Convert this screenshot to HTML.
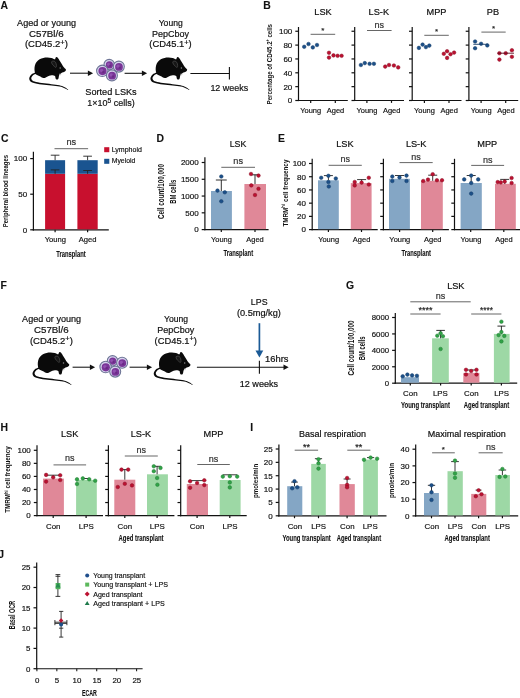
<!DOCTYPE html>
<html><head><meta charset="utf-8"><title>Figure</title>
<style>
html,body{margin:0;padding:0;background:#fff;}
body{width:520px;height:698px;overflow:hidden;}
svg{display:block;font-family:"Liberation Sans",sans-serif;filter:blur(0.45px);}
</style></head><body>
<svg width="520" height="698" viewBox="0 0 520 698">
<rect width="520" height="698" fill="#fff"/>
<text x="0.4" y="9.2" font-size="10.4" text-anchor="start" font-weight="bold" fill="#111111" stroke="#111111" stroke-width="0.1">A</text>
<text x="46.6" y="25.5" font-size="9.1" text-anchor="middle" fill="#111111" stroke="#111111" stroke-width="0.2" textLength="59.0" lengthAdjust="spacingAndGlyphs">Aged or young</text>
<text x="46.3" y="36.7" font-size="9.1" text-anchor="middle" fill="#111111" stroke="#111111" stroke-width="0.2" textLength="34.6" lengthAdjust="spacingAndGlyphs">C57Bl/6</text>
<text x="46.4" y="47.4" font-size="9.1" text-anchor="middle" fill="#111111" stroke="#111111" stroke-width="0.2" textLength="43.0" lengthAdjust="spacingAndGlyphs">(CD45.2<tspan dy="-2.6" font-size="7.2">+</tspan><tspan dy="2.6">)</tspan></text>
<g transform="translate(28,54) scale(1.0)">
<path d="M7.75 18.42 C7.11 18.42 5.22 19.09 4.20 19.87 C3.18 20.65 2.05 22.05 1.62 23.10 C1.18 24.15 1.05 25.22 1.62 26.17 C2.18 27.13 2.99 28.10 5.01 28.84 C7.03 29.58 10.66 30.16 13.73 30.61 C16.80 31.07 20.44 31.26 23.42 31.58 C26.41 31.91 29.48 32.12 31.66 32.55 C33.84 32.98 35.08 33.58 36.51 34.17 C37.94 34.76 39.71 35.93 40.23 36.11 C40.74 36.28 40.25 35.72 39.58 35.22 C38.91 34.72 37.56 33.76 36.19 33.12 C34.81 32.47 33.47 31.83 31.34 31.34 C29.21 30.86 26.33 30.59 23.42 30.21 C20.52 29.83 16.69 29.52 13.89 29.08 C11.09 28.63 8.32 28.11 6.62 27.54 C4.93 26.98 4.25 26.35 3.72 25.69 C3.18 25.03 3.18 24.34 3.39 23.59 C3.61 22.83 4.23 21.78 5.01 21.16 C5.79 20.54 7.62 20.33 8.08 19.87 C8.54 19.41 8.40 18.42 7.75 18.42 Z" fill="#0a0a0a"/>
<path d="M7.11 19.22 C6.89 18.42 6.49 16.67 6.46 15.35 C6.44 14.03 6.60 12.55 6.95 11.31 C7.30 10.07 7.78 8.91 8.56 7.92 C9.34 6.92 10.50 6.00 11.63 5.33 C12.76 4.66 14.05 4.17 15.35 3.88 C16.64 3.58 18.04 3.53 19.39 3.55 C20.73 3.58 22.19 3.74 23.42 4.04 C24.66 4.33 26.14 5.36 26.82 5.33 C27.49 5.30 27.19 4.28 27.46 3.88 C27.73 3.47 28.08 2.99 28.43 2.91 C28.78 2.83 29.19 3.04 29.56 3.39 C29.94 3.74 30.34 4.44 30.69 5.01 C31.04 5.57 31.26 6.11 31.66 6.79 C32.07 7.46 32.61 8.23 33.12 9.05 C33.63 9.87 34.17 10.90 34.73 11.71 C35.30 12.52 35.97 13.26 36.51 13.89 C37.05 14.53 37.80 15.00 37.96 15.51 C38.13 16.02 37.80 16.56 37.48 16.96 C37.16 17.37 36.56 17.66 36.03 17.93 C35.49 18.20 34.81 18.26 34.25 18.58 C33.68 18.90 33.14 19.44 32.63 19.87 C32.12 20.30 31.50 20.57 31.18 21.16 C30.86 21.76 30.88 22.75 30.69 23.42 C30.51 24.10 30.43 24.85 30.05 25.20 C29.67 25.55 28.86 25.74 28.43 25.53 C28.00 25.31 27.68 24.45 27.46 23.91 C27.25 23.37 27.44 22.70 27.14 22.29 C26.84 21.89 26.28 21.65 25.69 21.49 C25.09 21.32 24.34 21.27 23.59 21.32 C22.83 21.38 21.92 21.57 21.16 21.81 C20.41 22.05 19.71 22.46 19.06 22.78 C18.42 23.10 17.88 23.56 17.29 23.75 C16.69 23.94 16.10 23.96 15.51 23.91 C14.92 23.86 14.35 23.69 13.73 23.42 C13.11 23.16 12.49 22.67 11.79 22.29 C11.09 21.92 10.20 21.51 9.53 21.16 C8.86 20.81 8.16 20.52 7.75 20.19 C7.35 19.87 7.32 20.03 7.11 19.22 Z" fill="#0a0a0a"/>
<path d="M23.59 7.75 C23.83 7.24 25.01 7.00 25.69 7.11 C26.36 7.22 27.17 7.70 27.63 8.40 C28.08 9.10 28.38 10.47 28.43 11.31 C28.49 12.14 28.35 13.27 27.95 13.41 C27.54 13.54 26.63 12.65 26.01 12.12 C25.39 11.58 24.64 10.90 24.23 10.18 C23.83 9.45 23.34 8.27 23.59 7.75 Z" fill="#161616" stroke="#5e5e5e" stroke-width="0.55"/>
<circle cx="32.2" cy="13.9" r="0.75" fill="#8a8a8a"/>
<path d="M31.6 19.4 L33.4 20.2 L32.6 21.6 L31.4 20.8 Z" fill="#cfcfcf"/>
</g>
<line x1="70.0" y1="73.2" x2="88.39999999999999" y2="73.2" stroke="#111111" stroke-width="1.05"/>
<path d="M93.1 73.2 L87.89999999999999 70.5 L87.89999999999999 75.9 Z" fill="#111111"/>
<g transform="translate(0,0)">
<circle cx="109.2" cy="64.6" r="5.2" fill="#d6d4ee" stroke="#6e7596" stroke-width="1.1"/>
<circle cx="109.4" cy="64.89999999999999" r="3.6" fill="#7a3598"/>
<circle cx="108.5" cy="64.19999999999999" r="1.512" fill="#9a5ab8" opacity="0.75"/>
<circle cx="110.2" cy="65.69999999999999" r="1.08" fill="#5e2378" opacity="0.6"/>
<circle cx="118.8" cy="66.6" r="5.5" fill="#d6d4ee" stroke="#6e7596" stroke-width="1.1"/>
<circle cx="119.0" cy="66.89999999999999" r="3.9" fill="#7a3598"/>
<circle cx="118.1" cy="66.19999999999999" r="1.638" fill="#9a5ab8" opacity="0.75"/>
<circle cx="119.8" cy="67.69999999999999" r="1.17" fill="#5e2378" opacity="0.6"/>
<circle cx="102.3" cy="70.8" r="5.7" fill="#d6d4ee" stroke="#6e7596" stroke-width="1.1"/>
<circle cx="102.5" cy="71.1" r="4.1" fill="#7a3598"/>
<circle cx="101.6" cy="70.39999999999999" r="1.7219999999999998" fill="#9a5ab8" opacity="0.75"/>
<circle cx="103.3" cy="71.89999999999999" r="1.2299999999999998" fill="#5e2378" opacity="0.6"/>
<circle cx="111.9" cy="75.4" r="5.5" fill="#d6d4ee" stroke="#6e7596" stroke-width="1.1"/>
<circle cx="112.10000000000001" cy="75.7" r="3.9" fill="#7a3598"/>
<circle cx="111.2" cy="75.0" r="1.638" fill="#9a5ab8" opacity="0.75"/>
<circle cx="112.9" cy="76.5" r="1.17" fill="#5e2378" opacity="0.6"/>
</g>
<line x1="124.6" y1="73.3" x2="142.4" y2="73.3" stroke="#111111" stroke-width="1.05"/>
<path d="M147.1 73.3 L141.9 70.6 L141.9 76.0 Z" fill="#111111"/>
<g transform="translate(149.2,54) scale(1.0)">
<path d="M7.75 18.42 C7.11 18.42 5.22 19.09 4.20 19.87 C3.18 20.65 2.05 22.05 1.62 23.10 C1.18 24.15 1.05 25.22 1.62 26.17 C2.18 27.13 2.99 28.10 5.01 28.84 C7.03 29.58 10.66 30.16 13.73 30.61 C16.80 31.07 20.44 31.26 23.42 31.58 C26.41 31.91 29.48 32.12 31.66 32.55 C33.84 32.98 35.08 33.58 36.51 34.17 C37.94 34.76 39.71 35.93 40.23 36.11 C40.74 36.28 40.25 35.72 39.58 35.22 C38.91 34.72 37.56 33.76 36.19 33.12 C34.81 32.47 33.47 31.83 31.34 31.34 C29.21 30.86 26.33 30.59 23.42 30.21 C20.52 29.83 16.69 29.52 13.89 29.08 C11.09 28.63 8.32 28.11 6.62 27.54 C4.93 26.98 4.25 26.35 3.72 25.69 C3.18 25.03 3.18 24.34 3.39 23.59 C3.61 22.83 4.23 21.78 5.01 21.16 C5.79 20.54 7.62 20.33 8.08 19.87 C8.54 19.41 8.40 18.42 7.75 18.42 Z" fill="#0a0a0a"/>
<path d="M7.11 19.22 C6.89 18.42 6.49 16.67 6.46 15.35 C6.44 14.03 6.60 12.55 6.95 11.31 C7.30 10.07 7.78 8.91 8.56 7.92 C9.34 6.92 10.50 6.00 11.63 5.33 C12.76 4.66 14.05 4.17 15.35 3.88 C16.64 3.58 18.04 3.53 19.39 3.55 C20.73 3.58 22.19 3.74 23.42 4.04 C24.66 4.33 26.14 5.36 26.82 5.33 C27.49 5.30 27.19 4.28 27.46 3.88 C27.73 3.47 28.08 2.99 28.43 2.91 C28.78 2.83 29.19 3.04 29.56 3.39 C29.94 3.74 30.34 4.44 30.69 5.01 C31.04 5.57 31.26 6.11 31.66 6.79 C32.07 7.46 32.61 8.23 33.12 9.05 C33.63 9.87 34.17 10.90 34.73 11.71 C35.30 12.52 35.97 13.26 36.51 13.89 C37.05 14.53 37.80 15.00 37.96 15.51 C38.13 16.02 37.80 16.56 37.48 16.96 C37.16 17.37 36.56 17.66 36.03 17.93 C35.49 18.20 34.81 18.26 34.25 18.58 C33.68 18.90 33.14 19.44 32.63 19.87 C32.12 20.30 31.50 20.57 31.18 21.16 C30.86 21.76 30.88 22.75 30.69 23.42 C30.51 24.10 30.43 24.85 30.05 25.20 C29.67 25.55 28.86 25.74 28.43 25.53 C28.00 25.31 27.68 24.45 27.46 23.91 C27.25 23.37 27.44 22.70 27.14 22.29 C26.84 21.89 26.28 21.65 25.69 21.49 C25.09 21.32 24.34 21.27 23.59 21.32 C22.83 21.38 21.92 21.57 21.16 21.81 C20.41 22.05 19.71 22.46 19.06 22.78 C18.42 23.10 17.88 23.56 17.29 23.75 C16.69 23.94 16.10 23.96 15.51 23.91 C14.92 23.86 14.35 23.69 13.73 23.42 C13.11 23.16 12.49 22.67 11.79 22.29 C11.09 21.92 10.20 21.51 9.53 21.16 C8.86 20.81 8.16 20.52 7.75 20.19 C7.35 19.87 7.32 20.03 7.11 19.22 Z" fill="#0a0a0a"/>
<path d="M23.59 7.75 C23.83 7.24 25.01 7.00 25.69 7.11 C26.36 7.22 27.17 7.70 27.63 8.40 C28.08 9.10 28.38 10.47 28.43 11.31 C28.49 12.14 28.35 13.27 27.95 13.41 C27.54 13.54 26.63 12.65 26.01 12.12 C25.39 11.58 24.64 10.90 24.23 10.18 C23.83 9.45 23.34 8.27 23.59 7.75 Z" fill="#161616" stroke="#5e5e5e" stroke-width="0.55"/>
<circle cx="32.2" cy="13.9" r="0.75" fill="#8a8a8a"/>
<path d="M31.6 19.4 L33.4 20.2 L32.6 21.6 L31.4 20.8 Z" fill="#cfcfcf"/>
</g>
<text x="170.7" y="25.7" font-size="9.1" text-anchor="middle" fill="#111111" stroke="#111111" stroke-width="0.2" textLength="24.0" lengthAdjust="spacingAndGlyphs">Young</text>
<text x="170.5" y="36.7" font-size="9.1" text-anchor="middle" fill="#111111" stroke="#111111" stroke-width="0.2" textLength="37.0" lengthAdjust="spacingAndGlyphs">PepCboy</text>
<text x="170.5" y="47.4" font-size="9.1" text-anchor="middle" fill="#111111" stroke="#111111" stroke-width="0.2" textLength="42.4" lengthAdjust="spacingAndGlyphs">(CD45.1<tspan dy="-2.6" font-size="7.2">+</tspan><tspan dy="2.6">)</tspan></text>
<line x1="190.4" y1="73.4" x2="229.4" y2="73.4" stroke="#111111" stroke-width="1.05"/>
<line x1="229.4" y1="66.9" x2="229.4" y2="79.4" stroke="#111111" stroke-width="1.1"/>
<text x="229.3" y="90.8" font-size="9.1" text-anchor="middle" fill="#111111" stroke="#111111" stroke-width="0.2" textLength="37.8" lengthAdjust="spacingAndGlyphs">12 weeks</text>
<text x="111.0" y="94.8" font-size="9.2" text-anchor="middle" fill="#111111" stroke="#111111" stroke-width="0.2" textLength="51.4" lengthAdjust="spacingAndGlyphs">Sorted LSKs</text>
<text x="111.0" y="106.3" font-size="9.2" text-anchor="middle" fill="#111111" stroke="#111111" stroke-width="0.2" textLength="47.4" lengthAdjust="spacingAndGlyphs">1&#215;10<tspan dy="-3.6" font-size="6.8">5</tspan><tspan dy="3.6"> cells)</tspan></text>
<text x="263.2" y="9.3" font-size="10.4" text-anchor="start" font-weight="bold" fill="#111111" stroke="#111111" stroke-width="0.1">B</text>
<text transform="translate(271.8,64.2) rotate(-90)" x="0" y="0" font-size="7.8" text-anchor="middle" fill="#111111" font-weight="bold" textLength="80.5" lengthAdjust="spacingAndGlyphs">Percentage of CD45.2<tspan dy="-2.6" font-size="4.6">+</tspan><tspan dy="2.6"> cells</tspan></text>
<line x1="298.5" y1="27.0" x2="298.5" y2="101.1" stroke="#111111" stroke-width="1.2"/>
<line x1="295.3" y1="100.5" x2="298.5" y2="100.5" stroke="#111111" stroke-width="1.2"/>
<text x="292.3" y="103.38" font-size="8.0" text-anchor="end" fill="#111111" stroke="#111111" stroke-width="0.178">0</text>
<line x1="295.3" y1="86.65" x2="298.5" y2="86.65" stroke="#111111" stroke-width="1.2"/>
<text x="292.3" y="89.53" font-size="8.0" text-anchor="end" fill="#111111" stroke="#111111" stroke-width="0.178">20</text>
<line x1="295.3" y1="72.8" x2="298.5" y2="72.8" stroke="#111111" stroke-width="1.2"/>
<text x="292.3" y="75.67999999999999" font-size="8.0" text-anchor="end" fill="#111111" stroke="#111111" stroke-width="0.178">40</text>
<line x1="295.3" y1="58.95" x2="298.5" y2="58.95" stroke="#111111" stroke-width="1.2"/>
<text x="292.3" y="61.830000000000005" font-size="8.0" text-anchor="end" fill="#111111" stroke="#111111" stroke-width="0.178">60</text>
<line x1="295.3" y1="45.1" x2="298.5" y2="45.1" stroke="#111111" stroke-width="1.2"/>
<text x="292.3" y="47.980000000000004" font-size="8.0" text-anchor="end" fill="#111111" stroke="#111111" stroke-width="0.178">80</text>
<line x1="295.3" y1="31.25" x2="298.5" y2="31.25" stroke="#111111" stroke-width="1.2"/>
<text x="292.3" y="34.13" font-size="8.0" text-anchor="end" fill="#111111" stroke="#111111" stroke-width="0.178">100</text>
<line x1="297.9" y1="100.5" x2="347.8" y2="100.5" stroke="#111111" stroke-width="1.2"/>
<line x1="310.7" y1="100.5" x2="310.7" y2="102.9" stroke="#111111" stroke-width="1.2"/>
<line x1="335.3" y1="100.5" x2="335.3" y2="102.9" stroke="#111111" stroke-width="1.2"/>
<text x="310.7" y="112.6" font-size="7.8" text-anchor="middle" fill="#111111" stroke="#111111" stroke-width="0.173" textLength="20.9" lengthAdjust="spacingAndGlyphs">Young</text>
<text x="335.5" y="112.6" font-size="7.8" text-anchor="middle" fill="#111111" stroke="#111111" stroke-width="0.173" textLength="17.5" lengthAdjust="spacingAndGlyphs">Aged</text>
<text x="323.0" y="15.0" font-size="9.2" text-anchor="middle" fill="#111111" stroke="#111111" stroke-width="0.2">LSK</text>
<line x1="354.7" y1="27.0" x2="354.7" y2="101.1" stroke="#111111" stroke-width="1.2"/>
<line x1="351.5" y1="100.5" x2="354.7" y2="100.5" stroke="#111111" stroke-width="1.2"/>
<line x1="351.5" y1="86.65" x2="354.7" y2="86.65" stroke="#111111" stroke-width="1.2"/>
<line x1="351.5" y1="72.8" x2="354.7" y2="72.8" stroke="#111111" stroke-width="1.2"/>
<line x1="351.5" y1="58.95" x2="354.7" y2="58.95" stroke="#111111" stroke-width="1.2"/>
<line x1="351.5" y1="45.1" x2="354.7" y2="45.1" stroke="#111111" stroke-width="1.2"/>
<line x1="351.5" y1="31.25" x2="354.7" y2="31.25" stroke="#111111" stroke-width="1.2"/>
<line x1="354.09999999999997" y1="100.5" x2="404.0" y2="100.5" stroke="#111111" stroke-width="1.2"/>
<line x1="366.9" y1="100.5" x2="366.9" y2="102.9" stroke="#111111" stroke-width="1.2"/>
<line x1="391.5" y1="100.5" x2="391.5" y2="102.9" stroke="#111111" stroke-width="1.2"/>
<text x="366.9" y="112.6" font-size="7.8" text-anchor="middle" fill="#111111" stroke="#111111" stroke-width="0.173" textLength="20.9" lengthAdjust="spacingAndGlyphs">Young</text>
<text x="391.7" y="112.6" font-size="7.8" text-anchor="middle" fill="#111111" stroke="#111111" stroke-width="0.173" textLength="17.5" lengthAdjust="spacingAndGlyphs">Aged</text>
<text x="378.8" y="15.0" font-size="9.2" text-anchor="middle" fill="#111111" stroke="#111111" stroke-width="0.2">LS-K</text>
<line x1="412.2" y1="27.0" x2="412.2" y2="101.1" stroke="#111111" stroke-width="1.2"/>
<line x1="409.0" y1="100.5" x2="412.2" y2="100.5" stroke="#111111" stroke-width="1.2"/>
<line x1="409.0" y1="86.65" x2="412.2" y2="86.65" stroke="#111111" stroke-width="1.2"/>
<line x1="409.0" y1="72.8" x2="412.2" y2="72.8" stroke="#111111" stroke-width="1.2"/>
<line x1="409.0" y1="58.95" x2="412.2" y2="58.95" stroke="#111111" stroke-width="1.2"/>
<line x1="409.0" y1="45.1" x2="412.2" y2="45.1" stroke="#111111" stroke-width="1.2"/>
<line x1="409.0" y1="31.25" x2="412.2" y2="31.25" stroke="#111111" stroke-width="1.2"/>
<line x1="411.59999999999997" y1="100.5" x2="461.5" y2="100.5" stroke="#111111" stroke-width="1.2"/>
<line x1="424.4" y1="100.5" x2="424.4" y2="102.9" stroke="#111111" stroke-width="1.2"/>
<line x1="449.0" y1="100.5" x2="449.0" y2="102.9" stroke="#111111" stroke-width="1.2"/>
<text x="424.4" y="112.6" font-size="7.8" text-anchor="middle" fill="#111111" stroke="#111111" stroke-width="0.173" textLength="20.9" lengthAdjust="spacingAndGlyphs">Young</text>
<text x="449.2" y="112.6" font-size="7.8" text-anchor="middle" fill="#111111" stroke="#111111" stroke-width="0.173" textLength="17.5" lengthAdjust="spacingAndGlyphs">Aged</text>
<text x="436.5" y="15.0" font-size="9.2" text-anchor="middle" fill="#111111" stroke="#111111" stroke-width="0.2">MPP</text>
<line x1="468.9" y1="27.0" x2="468.9" y2="101.1" stroke="#111111" stroke-width="1.2"/>
<line x1="465.7" y1="100.5" x2="468.9" y2="100.5" stroke="#111111" stroke-width="1.2"/>
<line x1="465.7" y1="86.65" x2="468.9" y2="86.65" stroke="#111111" stroke-width="1.2"/>
<line x1="465.7" y1="72.8" x2="468.9" y2="72.8" stroke="#111111" stroke-width="1.2"/>
<line x1="465.7" y1="58.95" x2="468.9" y2="58.95" stroke="#111111" stroke-width="1.2"/>
<line x1="465.7" y1="45.1" x2="468.9" y2="45.1" stroke="#111111" stroke-width="1.2"/>
<line x1="465.7" y1="31.25" x2="468.9" y2="31.25" stroke="#111111" stroke-width="1.2"/>
<line x1="468.29999999999995" y1="100.5" x2="518.1999999999999" y2="100.5" stroke="#111111" stroke-width="1.2"/>
<line x1="481.09999999999997" y1="100.5" x2="481.09999999999997" y2="102.9" stroke="#111111" stroke-width="1.2"/>
<line x1="505.7" y1="100.5" x2="505.7" y2="102.9" stroke="#111111" stroke-width="1.2"/>
<text x="481.09999999999997" y="112.6" font-size="7.8" text-anchor="middle" fill="#111111" stroke="#111111" stroke-width="0.173" textLength="20.9" lengthAdjust="spacingAndGlyphs">Young</text>
<text x="505.9" y="112.6" font-size="7.8" text-anchor="middle" fill="#111111" stroke="#111111" stroke-width="0.173" textLength="17.5" lengthAdjust="spacingAndGlyphs">Aged</text>
<text x="493.0" y="15.0" font-size="9.2" text-anchor="middle" fill="#111111" stroke="#111111" stroke-width="0.2">PB</text>
<circle cx="304.2" cy="46.8" r="1.8" fill="#1c5089" stroke="#123a66" stroke-width="0.5"/>
<circle cx="308.5" cy="44.0" r="1.8" fill="#1c5089" stroke="#123a66" stroke-width="0.5"/>
<circle cx="312.8" cy="47.4" r="1.8" fill="#1c5089" stroke="#123a66" stroke-width="0.5"/>
<circle cx="317.0" cy="45.0" r="1.8" fill="#1c5089" stroke="#123a66" stroke-width="0.5"/>
<circle cx="329.0" cy="52.8" r="1.8" fill="#bc1131" stroke="#8a0c22" stroke-width="0.5"/>
<circle cx="329.0" cy="57.6" r="1.8" fill="#bc1131" stroke="#8a0c22" stroke-width="0.5"/>
<circle cx="333.5" cy="55.4" r="1.8" fill="#bc1131" stroke="#8a0c22" stroke-width="0.5"/>
<circle cx="337.6" cy="55.8" r="1.8" fill="#bc1131" stroke="#8a0c22" stroke-width="0.5"/>
<circle cx="341.6" cy="55.8" r="1.8" fill="#bc1131" stroke="#8a0c22" stroke-width="0.5"/>
<line x1="310.6" y1="34.3" x2="335.2" y2="34.3" stroke="#555555" stroke-width="0.9"/>
<text x="322.8" y="33.0" font-size="8" text-anchor="middle" fill="#222" stroke="#222" stroke-width="0.178">*</text>
<circle cx="360.9" cy="65.0" r="1.8" fill="#1c5089" stroke="#123a66" stroke-width="0.5"/>
<circle cx="364.8" cy="63.1" r="1.8" fill="#1c5089" stroke="#123a66" stroke-width="0.5"/>
<circle cx="369.6" cy="63.8" r="1.8" fill="#1c5089" stroke="#123a66" stroke-width="0.5"/>
<circle cx="373.9" cy="63.8" r="1.8" fill="#1c5089" stroke="#123a66" stroke-width="0.5"/>
<circle cx="385.2" cy="66.6" r="1.8" fill="#bc1131" stroke="#8a0c22" stroke-width="0.5"/>
<circle cx="389.0" cy="65.0" r="1.8" fill="#bc1131" stroke="#8a0c22" stroke-width="0.5"/>
<circle cx="393.9" cy="65.5" r="1.8" fill="#bc1131" stroke="#8a0c22" stroke-width="0.5"/>
<circle cx="398.2" cy="67.4" r="1.8" fill="#bc1131" stroke="#8a0c22" stroke-width="0.5"/>
<line x1="367.0" y1="30.5" x2="391.6" y2="30.5" stroke="#555555" stroke-width="0.9"/>
<text x="379.3" y="28.1" font-size="9.0" text-anchor="middle" fill="#333" stroke="#333" stroke-width="0.2">ns</text>
<circle cx="418.9" cy="47.9" r="1.8" fill="#1c5089" stroke="#123a66" stroke-width="0.5"/>
<circle cx="422.6" cy="44.6" r="1.8" fill="#1c5089" stroke="#123a66" stroke-width="0.5"/>
<circle cx="425.9" cy="47.1" r="1.8" fill="#1c5089" stroke="#123a66" stroke-width="0.5"/>
<circle cx="429.3" cy="45.6" r="1.8" fill="#1c5089" stroke="#123a66" stroke-width="0.5"/>
<circle cx="443.8" cy="53.8" r="1.8" fill="#bc1131" stroke="#8a0c22" stroke-width="0.5"/>
<circle cx="447.1" cy="51.2" r="1.8" fill="#bc1131" stroke="#8a0c22" stroke-width="0.5"/>
<circle cx="447.1" cy="57.9" r="1.8" fill="#bc1131" stroke="#8a0c22" stroke-width="0.5"/>
<circle cx="450.5" cy="54.2" r="1.8" fill="#bc1131" stroke="#8a0c22" stroke-width="0.5"/>
<circle cx="454.1" cy="52.6" r="1.8" fill="#bc1131" stroke="#8a0c22" stroke-width="0.5"/>
<line x1="424.3" y1="35.3" x2="448.8" y2="35.3" stroke="#555555" stroke-width="0.9"/>
<text x="436.5" y="34.0" font-size="8" text-anchor="middle" fill="#222" stroke="#222" stroke-width="0.178">*</text>
<circle cx="475.1" cy="41.5" r="1.8" fill="#1c5089" stroke="#123a66" stroke-width="0.5"/>
<circle cx="475.1" cy="48.2" r="1.8" fill="#1c5089" stroke="#123a66" stroke-width="0.5"/>
<circle cx="481.1" cy="43.8" r="1.8" fill="#1c5089" stroke="#123a66" stroke-width="0.5"/>
<circle cx="487.3" cy="45.4" r="1.8" fill="#1c5089" stroke="#123a66" stroke-width="0.5"/>
<line x1="473.3" y1="44.3" x2="487.8" y2="44.3" stroke="#1a3f6a" stroke-width="0.9"/>
<circle cx="499.4" cy="53.2" r="1.8" fill="#bc1131" stroke="#8a0c22" stroke-width="0.5"/>
<circle cx="499.4" cy="59.6" r="1.8" fill="#bc1131" stroke="#8a0c22" stroke-width="0.5"/>
<circle cx="505.7" cy="53.2" r="1.8" fill="#bc1131" stroke="#8a0c22" stroke-width="0.5"/>
<circle cx="511.9" cy="50.2" r="1.8" fill="#bc1131" stroke="#8a0c22" stroke-width="0.5"/>
<circle cx="511.9" cy="56.8" r="1.8" fill="#bc1131" stroke="#8a0c22" stroke-width="0.5"/>
<line x1="497.7" y1="53.2" x2="514.0" y2="53.2" stroke="#5a1020" stroke-width="0.9"/>
<line x1="481.4" y1="32.1" x2="505.7" y2="32.1" stroke="#555555" stroke-width="0.9"/>
<text x="493.5" y="30.8" font-size="8" text-anchor="middle" fill="#222" stroke="#222" stroke-width="0.178">*</text>
<text x="0.9" y="141.6" font-size="10.4" text-anchor="start" font-weight="bold" fill="#111111" stroke="#111111" stroke-width="0.1">C</text>
<line x1="33.4" y1="151.8" x2="33.4" y2="230.4" stroke="#111111" stroke-width="1.2"/>
<line x1="30.2" y1="229.8" x2="33.4" y2="229.8" stroke="#111111" stroke-width="1.2"/>
<text x="27.2" y="232.68" font-size="8.0" text-anchor="end" fill="#111111" stroke="#111111" stroke-width="0.178">0</text>
<line x1="30.2" y1="194.2" x2="33.4" y2="194.2" stroke="#111111" stroke-width="1.2"/>
<text x="27.2" y="197.07999999999998" font-size="8.0" text-anchor="end" fill="#111111" stroke="#111111" stroke-width="0.178">50</text>
<line x1="30.2" y1="158.6" x2="33.4" y2="158.6" stroke="#111111" stroke-width="1.2"/>
<text x="27.2" y="161.48" font-size="8.0" text-anchor="end" fill="#111111" stroke="#111111" stroke-width="0.178">100</text>
<line x1="32.8" y1="229.8" x2="108.8" y2="229.8" stroke="#111111" stroke-width="1.2"/>
<line x1="55.1" y1="229.8" x2="55.1" y2="232.20000000000002" stroke="#111111" stroke-width="1.2"/>
<line x1="87.6" y1="229.8" x2="87.6" y2="232.20000000000002" stroke="#111111" stroke-width="1.2"/>
<rect x="45.1" y="173.8" width="19.999999999999993" height="55.5" fill="#c8102e"/>
<rect x="45.1" y="160.2" width="19.999999999999993" height="13.600000000000023" fill="#1a5490"/>
<rect x="77.4" y="173.8" width="20.299999999999997" height="55.5" fill="#c8102e"/>
<rect x="77.4" y="160.2" width="20.299999999999997" height="13.600000000000023" fill="#1a5490"/>
<line x1="55.1" y1="155.2" x2="55.1" y2="160.2" stroke="#222" stroke-width="0.9"/>
<line x1="50.75" y1="155.2" x2="59.45" y2="155.2" stroke="#222" stroke-width="0.9"/>
<line x1="87.6" y1="156.2" x2="87.6" y2="160.2" stroke="#222" stroke-width="0.9"/>
<line x1="83.25" y1="156.2" x2="91.94999999999999" y2="156.2" stroke="#222" stroke-width="0.9"/>
<line x1="55.1" y1="169.9" x2="55.1" y2="173.8" stroke="#222" stroke-width="0.9"/>
<line x1="50.75" y1="169.9" x2="59.45" y2="169.9" stroke="#222" stroke-width="0.9"/>
<line x1="87.6" y1="170.5" x2="87.6" y2="173.8" stroke="#222" stroke-width="0.9"/>
<line x1="83.25" y1="170.5" x2="91.94999999999999" y2="170.5" stroke="#222" stroke-width="0.9"/>
<line x1="54.5" y1="148.7" x2="88.1" y2="148.7" stroke="#555555" stroke-width="0.9"/>
<text x="71.3" y="145.1" font-size="9.2" text-anchor="middle" fill="#333" stroke="#333" stroke-width="0.2">ns</text>
<text x="55.4" y="241.6" font-size="7.8" text-anchor="middle" fill="#111111" stroke="#111111" stroke-width="0.173" textLength="21.4" lengthAdjust="spacingAndGlyphs">Young</text>
<text x="87.6" y="241.6" font-size="7.8" text-anchor="middle" fill="#111111" stroke="#111111" stroke-width="0.173" textLength="17.8" lengthAdjust="spacingAndGlyphs">Aged</text>
<text x="70.9" y="256.5" font-size="8.3" text-anchor="middle" font-weight="bold" fill="#111111" stroke="#111111" stroke-width="0.092" textLength="29.5" lengthAdjust="spacingAndGlyphs">Transplant</text>
<text transform="translate(8.3,191.1) rotate(-90)" x="0" y="0" font-size="8.0" text-anchor="middle" fill="#111111" font-weight="bold" textLength="72.4" lengthAdjust="spacingAndGlyphs">Peripheral blood lineages</text>
<rect x="104.2" y="147.2" width="5.1" height="5.0" fill="#c8102e"/>
<rect x="104.2" y="158.8" width="5.1" height="5.0" fill="#1a5490"/>
<text x="111.7" y="152.2" font-size="7.0" text-anchor="start" fill="#111111" stroke="#111111" stroke-width="0.156" textLength="30.2" lengthAdjust="spacingAndGlyphs">Lymphoid</text>
<text x="111.7" y="163.4" font-size="7.0" text-anchor="start" fill="#111111" stroke="#111111" stroke-width="0.156" textLength="23.7" lengthAdjust="spacingAndGlyphs">Myeloid</text>
<text x="156.6" y="141.6" font-size="10.4" text-anchor="start" font-weight="bold" fill="#111111" stroke="#111111" stroke-width="0.1">D</text>
<line x1="204.9" y1="157.3" x2="204.9" y2="230.2" stroke="#111111" stroke-width="1.2"/>
<line x1="201.70000000000002" y1="229.6" x2="204.9" y2="229.6" stroke="#111111" stroke-width="1.2"/>
<text x="198.70000000000002" y="232.48" font-size="8.0" text-anchor="end" fill="#111111" stroke="#111111" stroke-width="0.178">0</text>
<line x1="201.70000000000002" y1="212.825" x2="204.9" y2="212.825" stroke="#111111" stroke-width="1.2"/>
<text x="198.70000000000002" y="215.70499999999998" font-size="8.0" text-anchor="end" fill="#111111" stroke="#111111" stroke-width="0.178">500</text>
<line x1="201.70000000000002" y1="196.05" x2="204.9" y2="196.05" stroke="#111111" stroke-width="1.2"/>
<text x="198.70000000000002" y="198.93" font-size="8.0" text-anchor="end" fill="#111111" stroke="#111111" stroke-width="0.178">1000</text>
<line x1="201.70000000000002" y1="179.275" x2="204.9" y2="179.275" stroke="#111111" stroke-width="1.2"/>
<text x="198.70000000000002" y="182.155" font-size="8.0" text-anchor="end" fill="#111111" stroke="#111111" stroke-width="0.178">1500</text>
<line x1="201.70000000000002" y1="162.5" x2="204.9" y2="162.5" stroke="#111111" stroke-width="1.2"/>
<text x="198.70000000000002" y="165.38" font-size="8.0" text-anchor="end" fill="#111111" stroke="#111111" stroke-width="0.178">2000</text>
<line x1="204.3" y1="229.6" x2="268.6" y2="229.6" stroke="#111111" stroke-width="1.2"/>
<line x1="221.3" y1="229.6" x2="221.3" y2="232.0" stroke="#111111" stroke-width="1.2"/>
<line x1="255.0" y1="229.6" x2="255.0" y2="232.0" stroke="#111111" stroke-width="1.2"/>
<rect x="211.0" y="191.0" width="20.900000000000006" height="38.099999999999994" fill="#84a6c5"/>
<rect x="244.4" y="184.0" width="21.599999999999994" height="45.099999999999994" fill="#e08898"/>
<line x1="221.3" y1="180.0" x2="221.3" y2="191.0" stroke="#1a1a1a" stroke-width="0.9"/>
<line x1="215.85000000000002" y1="180.0" x2="226.75" y2="180.0" stroke="#1a1a1a" stroke-width="0.9"/>
<line x1="255.0" y1="174.8" x2="255.0" y2="184.0" stroke="#1a1a1a" stroke-width="0.9"/>
<line x1="251.25" y1="174.8" x2="258.75" y2="174.8" stroke="#1a1a1a" stroke-width="0.9"/>
<circle cx="221.3" cy="176.5" r="1.8" fill="#1c5089" stroke="#123a66" stroke-width="0.5"/>
<circle cx="217.5" cy="190.6" r="1.8" fill="#1c5089" stroke="#123a66" stroke-width="0.5"/>
<circle cx="224.8" cy="192.3" r="1.8" fill="#1c5089" stroke="#123a66" stroke-width="0.5"/>
<circle cx="221.3" cy="201.3" r="1.8" fill="#1c5089" stroke="#123a66" stroke-width="0.5"/>
<circle cx="251.0" cy="174.0" r="1.8" fill="#bc1131" stroke="#8a0c22" stroke-width="0.5"/>
<circle cx="258.5" cy="175.6" r="1.8" fill="#bc1131" stroke="#8a0c22" stroke-width="0.5"/>
<circle cx="251.3" cy="185.4" r="1.8" fill="#bc1131" stroke="#8a0c22" stroke-width="0.5"/>
<circle cx="258.5" cy="188.8" r="1.8" fill="#bc1131" stroke="#8a0c22" stroke-width="0.5"/>
<circle cx="255.0" cy="195.0" r="1.8" fill="#bc1131" stroke="#8a0c22" stroke-width="0.5"/>
<line x1="221.3" y1="167.3" x2="255.0" y2="167.3" stroke="#555555" stroke-width="0.9"/>
<text x="238.15" y="163.70000000000002" font-size="9.2" text-anchor="middle" fill="#333" stroke="#333" stroke-width="0.2">ns</text>
<text x="238.0" y="146.5" font-size="9.2" text-anchor="middle" fill="#111111" stroke="#111111" stroke-width="0.2" textLength="16.6" lengthAdjust="spacingAndGlyphs">LSK</text>
<text x="221.4" y="241.6" font-size="7.8" text-anchor="middle" fill="#111111" stroke="#111111" stroke-width="0.173" textLength="20.9" lengthAdjust="spacingAndGlyphs">Young</text>
<text x="255.0" y="241.6" font-size="7.8" text-anchor="middle" fill="#111111" stroke="#111111" stroke-width="0.173" textLength="17.5" lengthAdjust="spacingAndGlyphs">Aged</text>
<text x="238.3" y="256.0" font-size="8.3" text-anchor="middle" font-weight="bold" fill="#111111" stroke="#111111" stroke-width="0.092" textLength="29.6" lengthAdjust="spacingAndGlyphs">Transplant</text>
<text transform="translate(164.4,191.5) rotate(-90)" x="0" y="0" font-size="8.8" text-anchor="middle" fill="#111111" font-weight="bold" textLength="55.0" lengthAdjust="spacingAndGlyphs">Cell count/100,000</text>
<text transform="translate(176.0,191.8) rotate(-90)" x="0" y="0" font-size="8.8" text-anchor="middle" fill="#111111" font-weight="bold" textLength="24.0" lengthAdjust="spacingAndGlyphs">BM cells</text>
<text x="277.9" y="141.6" font-size="10.4" text-anchor="start" font-weight="bold" fill="#111111" stroke="#111111" stroke-width="0.1">E</text>
<text transform="translate(287.8,193.1) rotate(-90)" x="0" y="0" font-size="7.8" text-anchor="middle" fill="#111111" font-weight="bold" textLength="67.0" lengthAdjust="spacingAndGlyphs">TMRM<tspan dy="-2.4" font-size="5.2">hi</tspan><tspan dy="2.4"> cell frequency</tspan></text>
<line x1="312.2" y1="158.8" x2="312.2" y2="230.2" stroke="#111111" stroke-width="1.2"/>
<line x1="309.0" y1="229.6" x2="312.2" y2="229.6" stroke="#111111" stroke-width="1.2"/>
<text x="306.0" y="232.48" font-size="8.0" text-anchor="end" fill="#111111" stroke="#111111" stroke-width="0.178">0</text>
<line x1="309.0" y1="216.38" x2="312.2" y2="216.38" stroke="#111111" stroke-width="1.2"/>
<text x="306.0" y="219.26" font-size="8.0" text-anchor="end" fill="#111111" stroke="#111111" stroke-width="0.178">20</text>
<line x1="309.0" y1="203.16" x2="312.2" y2="203.16" stroke="#111111" stroke-width="1.2"/>
<text x="306.0" y="206.04" font-size="8.0" text-anchor="end" fill="#111111" stroke="#111111" stroke-width="0.178">40</text>
<line x1="309.0" y1="189.94" x2="312.2" y2="189.94" stroke="#111111" stroke-width="1.2"/>
<text x="306.0" y="192.82" font-size="8.0" text-anchor="end" fill="#111111" stroke="#111111" stroke-width="0.178">60</text>
<line x1="309.0" y1="176.72" x2="312.2" y2="176.72" stroke="#111111" stroke-width="1.2"/>
<text x="306.0" y="179.6" font-size="8.0" text-anchor="end" fill="#111111" stroke="#111111" stroke-width="0.178">80</text>
<line x1="309.0" y1="163.5" x2="312.2" y2="163.5" stroke="#111111" stroke-width="1.2"/>
<text x="306.0" y="166.38" font-size="8.0" text-anchor="end" fill="#111111" stroke="#111111" stroke-width="0.178">100</text>
<line x1="311.59999999999997" y1="229.6" x2="377.7" y2="229.6" stroke="#111111" stroke-width="1.2"/>
<line x1="328.4" y1="229.6" x2="328.4" y2="232.0" stroke="#111111" stroke-width="1.2"/>
<line x1="361.5" y1="229.6" x2="361.5" y2="232.0" stroke="#111111" stroke-width="1.2"/>
<text x="328.59999999999997" y="241.6" font-size="7.8" text-anchor="middle" fill="#111111" stroke="#111111" stroke-width="0.173" textLength="20.9" lengthAdjust="spacingAndGlyphs">Young</text>
<text x="361.59999999999997" y="241.6" font-size="7.8" text-anchor="middle" fill="#111111" stroke="#111111" stroke-width="0.173" textLength="17.5" lengthAdjust="spacingAndGlyphs">Aged</text>
<text x="344.9" y="146.5" font-size="9.2" text-anchor="middle" fill="#111111" stroke="#111111" stroke-width="0.2">LSK</text>
<line x1="383.4" y1="158.8" x2="383.4" y2="230.2" stroke="#111111" stroke-width="1.2"/>
<line x1="380.2" y1="229.6" x2="383.4" y2="229.6" stroke="#111111" stroke-width="1.2"/>
<line x1="380.2" y1="216.38" x2="383.4" y2="216.38" stroke="#111111" stroke-width="1.2"/>
<line x1="380.2" y1="203.16" x2="383.4" y2="203.16" stroke="#111111" stroke-width="1.2"/>
<line x1="380.2" y1="189.94" x2="383.4" y2="189.94" stroke="#111111" stroke-width="1.2"/>
<line x1="380.2" y1="176.72" x2="383.4" y2="176.72" stroke="#111111" stroke-width="1.2"/>
<line x1="380.2" y1="163.5" x2="383.4" y2="163.5" stroke="#111111" stroke-width="1.2"/>
<line x1="382.79999999999995" y1="229.6" x2="448.9" y2="229.6" stroke="#111111" stroke-width="1.2"/>
<line x1="399.59999999999997" y1="229.6" x2="399.59999999999997" y2="232.0" stroke="#111111" stroke-width="1.2"/>
<line x1="432.7" y1="229.6" x2="432.7" y2="232.0" stroke="#111111" stroke-width="1.2"/>
<text x="399.79999999999995" y="241.6" font-size="7.8" text-anchor="middle" fill="#111111" stroke="#111111" stroke-width="0.173" textLength="20.9" lengthAdjust="spacingAndGlyphs">Young</text>
<text x="432.79999999999995" y="241.6" font-size="7.8" text-anchor="middle" fill="#111111" stroke="#111111" stroke-width="0.173" textLength="17.5" lengthAdjust="spacingAndGlyphs">Aged</text>
<text x="416.09999999999997" y="146.5" font-size="9.2" text-anchor="middle" fill="#111111" stroke="#111111" stroke-width="0.2">LS-K</text>
<line x1="454.5" y1="158.8" x2="454.5" y2="230.2" stroke="#111111" stroke-width="1.2"/>
<line x1="451.3" y1="229.6" x2="454.5" y2="229.6" stroke="#111111" stroke-width="1.2"/>
<line x1="451.3" y1="216.38" x2="454.5" y2="216.38" stroke="#111111" stroke-width="1.2"/>
<line x1="451.3" y1="203.16" x2="454.5" y2="203.16" stroke="#111111" stroke-width="1.2"/>
<line x1="451.3" y1="189.94" x2="454.5" y2="189.94" stroke="#111111" stroke-width="1.2"/>
<line x1="451.3" y1="176.72" x2="454.5" y2="176.72" stroke="#111111" stroke-width="1.2"/>
<line x1="451.3" y1="163.5" x2="454.5" y2="163.5" stroke="#111111" stroke-width="1.2"/>
<line x1="453.9" y1="229.6" x2="520.0" y2="229.6" stroke="#111111" stroke-width="1.2"/>
<line x1="470.7" y1="229.6" x2="470.7" y2="232.0" stroke="#111111" stroke-width="1.2"/>
<line x1="503.8" y1="229.6" x2="503.8" y2="232.0" stroke="#111111" stroke-width="1.2"/>
<text x="470.9" y="241.6" font-size="7.8" text-anchor="middle" fill="#111111" stroke="#111111" stroke-width="0.173" textLength="20.9" lengthAdjust="spacingAndGlyphs">Young</text>
<text x="503.9" y="241.6" font-size="7.8" text-anchor="middle" fill="#111111" stroke="#111111" stroke-width="0.173" textLength="17.5" lengthAdjust="spacingAndGlyphs">Aged</text>
<text x="487.2" y="146.5" font-size="9.2" text-anchor="middle" fill="#111111" stroke="#111111" stroke-width="0.2">MPP</text>
<rect x="318.0" y="180.3" width="20.8" height="48.899999999999984" fill="#84a6c5"/>
<rect x="350.8" y="183.1" width="20.8" height="46.1" fill="#e08898"/>
<line x1="328.4" y1="175.6" x2="328.4" y2="180.3" stroke="#222" stroke-width="0.9"/>
<line x1="323.9" y1="175.6" x2="332.9" y2="175.6" stroke="#222" stroke-width="0.9"/>
<line x1="361.6" y1="179.6" x2="361.6" y2="183.1" stroke="#222" stroke-width="0.9"/>
<line x1="357.1" y1="179.6" x2="366.1" y2="179.6" stroke="#222" stroke-width="0.9"/>
<circle cx="321.2" cy="177.8" r="1.8" fill="#1c5089" stroke="#123a66" stroke-width="0.5"/>
<circle cx="328.4" cy="175.8" r="1.8" fill="#1c5089" stroke="#123a66" stroke-width="0.5"/>
<circle cx="335.8" cy="178.5" r="1.8" fill="#1c5089" stroke="#123a66" stroke-width="0.5"/>
<circle cx="328.4" cy="182.0" r="1.8" fill="#1c5089" stroke="#123a66" stroke-width="0.5"/>
<circle cx="328.8" cy="186.5" r="1.8" fill="#1c5089" stroke="#123a66" stroke-width="0.5"/>
<circle cx="354.7" cy="182.0" r="1.8" fill="#bc1131" stroke="#8a0c22" stroke-width="0.5"/>
<circle cx="354.7" cy="185.4" r="1.8" fill="#bc1131" stroke="#8a0c22" stroke-width="0.5"/>
<circle cx="361.6" cy="182.6" r="1.8" fill="#bc1131" stroke="#8a0c22" stroke-width="0.5"/>
<circle cx="368.8" cy="177.8" r="1.8" fill="#bc1131" stroke="#8a0c22" stroke-width="0.5"/>
<circle cx="368.8" cy="184.5" r="1.8" fill="#bc1131" stroke="#8a0c22" stroke-width="0.5"/>
<line x1="328.6" y1="165.3" x2="361.8" y2="165.3" stroke="#555555" stroke-width="0.9"/>
<text x="345.20000000000005" y="162.3" font-size="9.0" text-anchor="middle" fill="#333" stroke="#333" stroke-width="0.2">ns</text>
<rect x="389.0" y="178.8" width="20.9" height="50.399999999999984" fill="#84a6c5"/>
<rect x="421.0" y="180.8" width="21.8" height="48.399999999999984" fill="#e08898"/>
<line x1="399.5" y1="175.5" x2="399.5" y2="178.8" stroke="#222" stroke-width="0.9"/>
<line x1="395.0" y1="175.5" x2="404.0" y2="175.5" stroke="#222" stroke-width="0.9"/>
<line x1="432.7" y1="175.2" x2="432.7" y2="180.8" stroke="#222" stroke-width="0.9"/>
<line x1="428.2" y1="175.2" x2="437.2" y2="175.2" stroke="#222" stroke-width="0.9"/>
<circle cx="392.3" cy="176.6" r="1.8" fill="#1c5089" stroke="#123a66" stroke-width="0.5"/>
<circle cx="392.3" cy="181.0" r="1.8" fill="#1c5089" stroke="#123a66" stroke-width="0.5"/>
<circle cx="399.5" cy="177.4" r="1.8" fill="#1c5089" stroke="#123a66" stroke-width="0.5"/>
<circle cx="406.5" cy="175.6" r="1.8" fill="#1c5089" stroke="#123a66" stroke-width="0.5"/>
<circle cx="406.5" cy="181.0" r="1.8" fill="#1c5089" stroke="#123a66" stroke-width="0.5"/>
<circle cx="423.2" cy="181.0" r="1.8" fill="#bc1131" stroke="#8a0c22" stroke-width="0.5"/>
<circle cx="428.0" cy="179.6" r="1.8" fill="#bc1131" stroke="#8a0c22" stroke-width="0.5"/>
<circle cx="432.7" cy="174.2" r="1.8" fill="#bc1131" stroke="#8a0c22" stroke-width="0.5"/>
<circle cx="436.9" cy="180.2" r="1.8" fill="#bc1131" stroke="#8a0c22" stroke-width="0.5"/>
<circle cx="442.0" cy="180.2" r="1.8" fill="#bc1131" stroke="#8a0c22" stroke-width="0.5"/>
<line x1="399.5" y1="162.6" x2="432.7" y2="162.6" stroke="#555555" stroke-width="0.9"/>
<text x="416.1" y="160.0" font-size="9.0" text-anchor="middle" fill="#333" stroke="#333" stroke-width="0.2">ns</text>
<rect x="460.6" y="183.0" width="21.2" height="46.199999999999996" fill="#84a6c5"/>
<rect x="495.0" y="183.8" width="20.8" height="45.399999999999984" fill="#e08898"/>
<line x1="471.2" y1="175.5" x2="471.2" y2="183.0" stroke="#222" stroke-width="0.9"/>
<line x1="466.7" y1="175.5" x2="475.7" y2="175.5" stroke="#222" stroke-width="0.9"/>
<line x1="504.7" y1="179.4" x2="504.7" y2="183.8" stroke="#222" stroke-width="0.9"/>
<line x1="500.2" y1="179.4" x2="509.2" y2="179.4" stroke="#222" stroke-width="0.9"/>
<circle cx="464.2" cy="179.4" r="1.8" fill="#1c5089" stroke="#123a66" stroke-width="0.5"/>
<circle cx="471.2" cy="175.6" r="1.8" fill="#1c5089" stroke="#123a66" stroke-width="0.5"/>
<circle cx="478.2" cy="179.4" r="1.8" fill="#1c5089" stroke="#123a66" stroke-width="0.5"/>
<circle cx="471.2" cy="183.0" r="1.8" fill="#1c5089" stroke="#123a66" stroke-width="0.5"/>
<circle cx="471.2" cy="193.6" r="1.8" fill="#1c5089" stroke="#123a66" stroke-width="0.5"/>
<circle cx="497.7" cy="182.1" r="1.8" fill="#bc1131" stroke="#8a0c22" stroke-width="0.5"/>
<circle cx="504.7" cy="181.6" r="1.8" fill="#bc1131" stroke="#8a0c22" stroke-width="0.5"/>
<circle cx="511.6" cy="178.0" r="1.8" fill="#bc1131" stroke="#8a0c22" stroke-width="0.5"/>
<circle cx="511.6" cy="183.0" r="1.8" fill="#bc1131" stroke="#8a0c22" stroke-width="0.5"/>
<circle cx="500.8" cy="182.4" r="1.8" fill="#bc1131" stroke="#8a0c22" stroke-width="0.5"/>
<line x1="471.2" y1="165.4" x2="504.1" y2="165.4" stroke="#555555" stroke-width="0.9"/>
<text x="487.65" y="162.6" font-size="9.0" text-anchor="middle" fill="#333" stroke="#333" stroke-width="0.2">ns</text>
<text x="416.2" y="256.0" font-size="8.3" text-anchor="middle" font-weight="bold" fill="#111111" stroke="#111111" stroke-width="0.092" textLength="29.5" lengthAdjust="spacingAndGlyphs">Transplant</text>
<text x="0.4" y="288.5" font-size="10.4" text-anchor="start" font-weight="bold" fill="#111111" stroke="#111111" stroke-width="0.1">F</text>
<text x="51.6" y="321.8" font-size="9.1" text-anchor="middle" fill="#111111" stroke="#111111" stroke-width="0.2" textLength="59.0" lengthAdjust="spacingAndGlyphs">Aged or young</text>
<text x="51.3" y="332.9" font-size="9.1" text-anchor="middle" fill="#111111" stroke="#111111" stroke-width="0.2" textLength="34.6" lengthAdjust="spacingAndGlyphs">C57Bl/6</text>
<text x="51.45" y="343.6" font-size="9.1" text-anchor="middle" fill="#111111" stroke="#111111" stroke-width="0.2" textLength="43.0" lengthAdjust="spacingAndGlyphs">(CD45.2<tspan dy="-2.6" font-size="7.2">+</tspan><tspan dy="2.6">)</tspan></text>
<g transform="translate(31.3,349.0) scale(1.0)">
<path d="M7.75 18.42 C7.11 18.42 5.22 19.09 4.20 19.87 C3.18 20.65 2.05 22.05 1.62 23.10 C1.18 24.15 1.05 25.22 1.62 26.17 C2.18 27.13 2.99 28.10 5.01 28.84 C7.03 29.58 10.66 30.16 13.73 30.61 C16.80 31.07 20.44 31.26 23.42 31.58 C26.41 31.91 29.48 32.12 31.66 32.55 C33.84 32.98 35.08 33.58 36.51 34.17 C37.94 34.76 39.71 35.93 40.23 36.11 C40.74 36.28 40.25 35.72 39.58 35.22 C38.91 34.72 37.56 33.76 36.19 33.12 C34.81 32.47 33.47 31.83 31.34 31.34 C29.21 30.86 26.33 30.59 23.42 30.21 C20.52 29.83 16.69 29.52 13.89 29.08 C11.09 28.63 8.32 28.11 6.62 27.54 C4.93 26.98 4.25 26.35 3.72 25.69 C3.18 25.03 3.18 24.34 3.39 23.59 C3.61 22.83 4.23 21.78 5.01 21.16 C5.79 20.54 7.62 20.33 8.08 19.87 C8.54 19.41 8.40 18.42 7.75 18.42 Z" fill="#0a0a0a"/>
<path d="M7.11 19.22 C6.89 18.42 6.49 16.67 6.46 15.35 C6.44 14.03 6.60 12.55 6.95 11.31 C7.30 10.07 7.78 8.91 8.56 7.92 C9.34 6.92 10.50 6.00 11.63 5.33 C12.76 4.66 14.05 4.17 15.35 3.88 C16.64 3.58 18.04 3.53 19.39 3.55 C20.73 3.58 22.19 3.74 23.42 4.04 C24.66 4.33 26.14 5.36 26.82 5.33 C27.49 5.30 27.19 4.28 27.46 3.88 C27.73 3.47 28.08 2.99 28.43 2.91 C28.78 2.83 29.19 3.04 29.56 3.39 C29.94 3.74 30.34 4.44 30.69 5.01 C31.04 5.57 31.26 6.11 31.66 6.79 C32.07 7.46 32.61 8.23 33.12 9.05 C33.63 9.87 34.17 10.90 34.73 11.71 C35.30 12.52 35.97 13.26 36.51 13.89 C37.05 14.53 37.80 15.00 37.96 15.51 C38.13 16.02 37.80 16.56 37.48 16.96 C37.16 17.37 36.56 17.66 36.03 17.93 C35.49 18.20 34.81 18.26 34.25 18.58 C33.68 18.90 33.14 19.44 32.63 19.87 C32.12 20.30 31.50 20.57 31.18 21.16 C30.86 21.76 30.88 22.75 30.69 23.42 C30.51 24.10 30.43 24.85 30.05 25.20 C29.67 25.55 28.86 25.74 28.43 25.53 C28.00 25.31 27.68 24.45 27.46 23.91 C27.25 23.37 27.44 22.70 27.14 22.29 C26.84 21.89 26.28 21.65 25.69 21.49 C25.09 21.32 24.34 21.27 23.59 21.32 C22.83 21.38 21.92 21.57 21.16 21.81 C20.41 22.05 19.71 22.46 19.06 22.78 C18.42 23.10 17.88 23.56 17.29 23.75 C16.69 23.94 16.10 23.96 15.51 23.91 C14.92 23.86 14.35 23.69 13.73 23.42 C13.11 23.16 12.49 22.67 11.79 22.29 C11.09 21.92 10.20 21.51 9.53 21.16 C8.86 20.81 8.16 20.52 7.75 20.19 C7.35 19.87 7.32 20.03 7.11 19.22 Z" fill="#0a0a0a"/>
<path d="M23.59 7.75 C23.83 7.24 25.01 7.00 25.69 7.11 C26.36 7.22 27.17 7.70 27.63 8.40 C28.08 9.10 28.38 10.47 28.43 11.31 C28.49 12.14 28.35 13.27 27.95 13.41 C27.54 13.54 26.63 12.65 26.01 12.12 C25.39 11.58 24.64 10.90 24.23 10.18 C23.83 9.45 23.34 8.27 23.59 7.75 Z" fill="#161616" stroke="#5e5e5e" stroke-width="0.55"/>
<circle cx="32.2" cy="13.9" r="0.75" fill="#8a8a8a"/>
<path d="M31.6 19.4 L33.4 20.2 L32.6 21.6 L31.4 20.8 Z" fill="#cfcfcf"/>
</g>
<line x1="72.6" y1="367.2" x2="90.39999999999999" y2="367.2" stroke="#111111" stroke-width="1.05"/>
<path d="M95.1 367.2 L89.89999999999999 364.5 L89.89999999999999 369.9 Z" fill="#111111"/>
<g transform="translate(3.3,296.2)">
<circle cx="109.2" cy="64.6" r="5.2" fill="#d6d4ee" stroke="#6e7596" stroke-width="1.1"/>
<circle cx="109.4" cy="64.89999999999999" r="3.6" fill="#7a3598"/>
<circle cx="108.5" cy="64.19999999999999" r="1.512" fill="#9a5ab8" opacity="0.75"/>
<circle cx="110.2" cy="65.69999999999999" r="1.08" fill="#5e2378" opacity="0.6"/>
<circle cx="118.8" cy="66.6" r="5.5" fill="#d6d4ee" stroke="#6e7596" stroke-width="1.1"/>
<circle cx="119.0" cy="66.89999999999999" r="3.9" fill="#7a3598"/>
<circle cx="118.1" cy="66.19999999999999" r="1.638" fill="#9a5ab8" opacity="0.75"/>
<circle cx="119.8" cy="67.69999999999999" r="1.17" fill="#5e2378" opacity="0.6"/>
<circle cx="102.3" cy="70.8" r="5.7" fill="#d6d4ee" stroke="#6e7596" stroke-width="1.1"/>
<circle cx="102.5" cy="71.1" r="4.1" fill="#7a3598"/>
<circle cx="101.6" cy="70.39999999999999" r="1.7219999999999998" fill="#9a5ab8" opacity="0.75"/>
<circle cx="103.3" cy="71.89999999999999" r="1.2299999999999998" fill="#5e2378" opacity="0.6"/>
<circle cx="111.9" cy="75.4" r="5.5" fill="#d6d4ee" stroke="#6e7596" stroke-width="1.1"/>
<circle cx="112.10000000000001" cy="75.7" r="3.9" fill="#7a3598"/>
<circle cx="111.2" cy="75.0" r="1.638" fill="#9a5ab8" opacity="0.75"/>
<circle cx="112.9" cy="76.5" r="1.17" fill="#5e2378" opacity="0.6"/>
</g>
<line x1="129.6" y1="367.2" x2="147.4" y2="367.2" stroke="#111111" stroke-width="1.05"/>
<path d="M152.1 367.2 L146.9 364.5 L146.9 369.9 Z" fill="#111111"/>
<g transform="translate(152.5,349.0) scale(1.0)">
<path d="M7.75 18.42 C7.11 18.42 5.22 19.09 4.20 19.87 C3.18 20.65 2.05 22.05 1.62 23.10 C1.18 24.15 1.05 25.22 1.62 26.17 C2.18 27.13 2.99 28.10 5.01 28.84 C7.03 29.58 10.66 30.16 13.73 30.61 C16.80 31.07 20.44 31.26 23.42 31.58 C26.41 31.91 29.48 32.12 31.66 32.55 C33.84 32.98 35.08 33.58 36.51 34.17 C37.94 34.76 39.71 35.93 40.23 36.11 C40.74 36.28 40.25 35.72 39.58 35.22 C38.91 34.72 37.56 33.76 36.19 33.12 C34.81 32.47 33.47 31.83 31.34 31.34 C29.21 30.86 26.33 30.59 23.42 30.21 C20.52 29.83 16.69 29.52 13.89 29.08 C11.09 28.63 8.32 28.11 6.62 27.54 C4.93 26.98 4.25 26.35 3.72 25.69 C3.18 25.03 3.18 24.34 3.39 23.59 C3.61 22.83 4.23 21.78 5.01 21.16 C5.79 20.54 7.62 20.33 8.08 19.87 C8.54 19.41 8.40 18.42 7.75 18.42 Z" fill="#0a0a0a"/>
<path d="M7.11 19.22 C6.89 18.42 6.49 16.67 6.46 15.35 C6.44 14.03 6.60 12.55 6.95 11.31 C7.30 10.07 7.78 8.91 8.56 7.92 C9.34 6.92 10.50 6.00 11.63 5.33 C12.76 4.66 14.05 4.17 15.35 3.88 C16.64 3.58 18.04 3.53 19.39 3.55 C20.73 3.58 22.19 3.74 23.42 4.04 C24.66 4.33 26.14 5.36 26.82 5.33 C27.49 5.30 27.19 4.28 27.46 3.88 C27.73 3.47 28.08 2.99 28.43 2.91 C28.78 2.83 29.19 3.04 29.56 3.39 C29.94 3.74 30.34 4.44 30.69 5.01 C31.04 5.57 31.26 6.11 31.66 6.79 C32.07 7.46 32.61 8.23 33.12 9.05 C33.63 9.87 34.17 10.90 34.73 11.71 C35.30 12.52 35.97 13.26 36.51 13.89 C37.05 14.53 37.80 15.00 37.96 15.51 C38.13 16.02 37.80 16.56 37.48 16.96 C37.16 17.37 36.56 17.66 36.03 17.93 C35.49 18.20 34.81 18.26 34.25 18.58 C33.68 18.90 33.14 19.44 32.63 19.87 C32.12 20.30 31.50 20.57 31.18 21.16 C30.86 21.76 30.88 22.75 30.69 23.42 C30.51 24.10 30.43 24.85 30.05 25.20 C29.67 25.55 28.86 25.74 28.43 25.53 C28.00 25.31 27.68 24.45 27.46 23.91 C27.25 23.37 27.44 22.70 27.14 22.29 C26.84 21.89 26.28 21.65 25.69 21.49 C25.09 21.32 24.34 21.27 23.59 21.32 C22.83 21.38 21.92 21.57 21.16 21.81 C20.41 22.05 19.71 22.46 19.06 22.78 C18.42 23.10 17.88 23.56 17.29 23.75 C16.69 23.94 16.10 23.96 15.51 23.91 C14.92 23.86 14.35 23.69 13.73 23.42 C13.11 23.16 12.49 22.67 11.79 22.29 C11.09 21.92 10.20 21.51 9.53 21.16 C8.86 20.81 8.16 20.52 7.75 20.19 C7.35 19.87 7.32 20.03 7.11 19.22 Z" fill="#0a0a0a"/>
<path d="M23.59 7.75 C23.83 7.24 25.01 7.00 25.69 7.11 C26.36 7.22 27.17 7.70 27.63 8.40 C28.08 9.10 28.38 10.47 28.43 11.31 C28.49 12.14 28.35 13.27 27.95 13.41 C27.54 13.54 26.63 12.65 26.01 12.12 C25.39 11.58 24.64 10.90 24.23 10.18 C23.83 9.45 23.34 8.27 23.59 7.75 Z" fill="#161616" stroke="#5e5e5e" stroke-width="0.55"/>
<circle cx="32.2" cy="13.9" r="0.75" fill="#8a8a8a"/>
<path d="M31.6 19.4 L33.4 20.2 L32.6 21.6 L31.4 20.8 Z" fill="#cfcfcf"/>
</g>
<text x="176.0" y="321.8" font-size="9.1" text-anchor="middle" fill="#111111" stroke="#111111" stroke-width="0.2" textLength="24.0" lengthAdjust="spacingAndGlyphs">Young</text>
<text x="175.8" y="332.9" font-size="9.1" text-anchor="middle" fill="#111111" stroke="#111111" stroke-width="0.2" textLength="37.0" lengthAdjust="spacingAndGlyphs">PepCboy</text>
<text x="175.8" y="343.6" font-size="9.1" text-anchor="middle" fill="#111111" stroke="#111111" stroke-width="0.2" textLength="42.4" lengthAdjust="spacingAndGlyphs">(CD45.1<tspan dy="-2.6" font-size="7.2">+</tspan><tspan dy="2.6">)</tspan></text>
<line x1="196.9" y1="367.2" x2="284.0" y2="367.2" stroke="#111111" stroke-width="1.05"/>
<path d="M288.7 367.2 L283.5 364.5 L283.5 369.9 Z" fill="#111111"/>
<line x1="259.4" y1="360.8" x2="259.4" y2="373.7" stroke="#111111" stroke-width="1.1"/>
<line x1="259.4" y1="323.2" x2="259.4" y2="352.0" stroke="#1b5a96" stroke-width="1.7"/>
<path d="M255.5 350.6 L263.3 350.6 L259.4 357.4 Z" fill="#1b5a96"/>
<text x="259.2" y="304.9" font-size="9.2" text-anchor="middle" fill="#111111" stroke="#111111" stroke-width="0.2" textLength="16.7" lengthAdjust="spacingAndGlyphs">LPS</text>
<text x="258.9" y="316.4" font-size="9.2" text-anchor="middle" fill="#111111" stroke="#111111" stroke-width="0.2" textLength="44.0" lengthAdjust="spacingAndGlyphs">(0.5mg/kg)</text>
<text x="276.8" y="361.9" font-size="9.0" text-anchor="middle" fill="#111111" stroke="#111111" stroke-width="0.2" textLength="23.4" lengthAdjust="spacingAndGlyphs">16hrs</text>
<text x="258.9" y="386.8" font-size="9.1" text-anchor="middle" fill="#111111" stroke="#111111" stroke-width="0.2" textLength="38.3" lengthAdjust="spacingAndGlyphs">12 weeks</text>
<text x="346.1" y="288.6" font-size="10.4" text-anchor="start" font-weight="bold" fill="#111111" stroke="#111111" stroke-width="0.1">G</text>
<line x1="395.3" y1="313.0" x2="395.3" y2="383.8" stroke="#111111" stroke-width="1.2"/>
<line x1="392.1" y1="383.2" x2="395.3" y2="383.2" stroke="#111111" stroke-width="1.2"/>
<text x="389.1" y="386.008" font-size="7.8" text-anchor="end" fill="#111111" stroke="#111111" stroke-width="0.173">0</text>
<line x1="392.1" y1="366.775" x2="395.3" y2="366.775" stroke="#111111" stroke-width="1.2"/>
<text x="389.1" y="369.58299999999997" font-size="7.8" text-anchor="end" fill="#111111" stroke="#111111" stroke-width="0.173">2000</text>
<line x1="392.1" y1="350.35" x2="395.3" y2="350.35" stroke="#111111" stroke-width="1.2"/>
<text x="389.1" y="353.158" font-size="7.8" text-anchor="end" fill="#111111" stroke="#111111" stroke-width="0.173">4000</text>
<line x1="392.1" y1="333.925" x2="395.3" y2="333.925" stroke="#111111" stroke-width="1.2"/>
<text x="389.1" y="336.733" font-size="7.8" text-anchor="end" fill="#111111" stroke="#111111" stroke-width="0.173">6000</text>
<line x1="392.1" y1="317.5" x2="395.3" y2="317.5" stroke="#111111" stroke-width="1.2"/>
<text x="389.1" y="320.308" font-size="7.8" text-anchor="end" fill="#111111" stroke="#111111" stroke-width="0.173">8000</text>
<line x1="394.7" y1="383.2" x2="517.2" y2="383.2" stroke="#111111" stroke-width="1.2"/>
<line x1="410.3" y1="383.2" x2="410.3" y2="385.59999999999997" stroke="#111111" stroke-width="1.2"/>
<line x1="440.6" y1="383.2" x2="440.6" y2="385.59999999999997" stroke="#111111" stroke-width="1.2"/>
<line x1="471.2" y1="383.2" x2="471.2" y2="385.59999999999997" stroke="#111111" stroke-width="1.2"/>
<line x1="501.4" y1="383.2" x2="501.4" y2="385.59999999999997" stroke="#111111" stroke-width="1.2"/>
<rect x="401.0" y="377.2" width="18.0" height="5.5" fill="#84a6c5"/>
<rect x="432.1" y="338.3" width="16.69999999999999" height="44.39999999999998" fill="#9dd8a5"/>
<rect x="463.3" y="372.9" width="16.099999999999966" height="9.800000000000011" fill="#e08898"/>
<rect x="493.9" y="333.9" width="15.700000000000045" height="48.80000000000001" fill="#9dd8a5"/>
<line x1="440.6" y1="330.4" x2="440.6" y2="338.3" stroke="#1a1a1a" stroke-width="0.9"/>
<line x1="436.3" y1="330.4" x2="444.90000000000003" y2="330.4" stroke="#1a1a1a" stroke-width="0.9"/>
<line x1="501.4" y1="326.1" x2="501.4" y2="333.9" stroke="#1a1a1a" stroke-width="0.9"/>
<line x1="497.45" y1="326.1" x2="505.34999999999997" y2="326.1" stroke="#1a1a1a" stroke-width="0.9"/>
<line x1="466.0" y1="370.0" x2="476.5" y2="370.0" stroke="#222" stroke-width="0.9"/>
<circle cx="402.7" cy="376.3" r="1.8" fill="#1c5089" stroke="#123a66" stroke-width="0.5"/>
<circle cx="407.4" cy="374.6" r="1.8" fill="#1c5089" stroke="#123a66" stroke-width="0.5"/>
<circle cx="412.1" cy="375.4" r="1.8" fill="#1c5089" stroke="#123a66" stroke-width="0.5"/>
<circle cx="416.9" cy="375.8" r="1.8" fill="#1c5089" stroke="#123a66" stroke-width="0.5"/>
<circle cx="437.3" cy="335.7" r="1.8" fill="#31a347" stroke="#1f7a33" stroke-width="0.5"/>
<circle cx="440.6" cy="333.2" r="1.8" fill="#31a347" stroke="#1f7a33" stroke-width="0.5"/>
<circle cx="442.9" cy="336.2" r="1.8" fill="#31a347" stroke="#1f7a33" stroke-width="0.5"/>
<circle cx="440.6" cy="349.0" r="1.8" fill="#31a347" stroke="#1f7a33" stroke-width="0.5"/>
<circle cx="466.0" cy="369.8" r="1.8" fill="#bc1131" stroke="#8a0c22" stroke-width="0.5"/>
<circle cx="471.2" cy="371.0" r="1.8" fill="#bc1131" stroke="#8a0c22" stroke-width="0.5"/>
<circle cx="476.5" cy="369.8" r="1.8" fill="#bc1131" stroke="#8a0c22" stroke-width="0.5"/>
<circle cx="466.0" cy="374.5" r="1.8" fill="#bc1131" stroke="#8a0c22" stroke-width="0.5"/>
<circle cx="476.5" cy="374.5" r="1.8" fill="#bc1131" stroke="#8a0c22" stroke-width="0.5"/>
<circle cx="501.4" cy="321.7" r="1.8" fill="#31a347" stroke="#1f7a33" stroke-width="0.5"/>
<circle cx="501.4" cy="332.0" r="1.8" fill="#31a347" stroke="#1f7a33" stroke-width="0.5"/>
<circle cx="498.6" cy="335.1" r="1.8" fill="#31a347" stroke="#1f7a33" stroke-width="0.5"/>
<circle cx="504.3" cy="335.9" r="1.8" fill="#31a347" stroke="#1f7a33" stroke-width="0.5"/>
<circle cx="501.4" cy="341.4" r="1.8" fill="#31a347" stroke="#1f7a33" stroke-width="0.5"/>
<line x1="410.3" y1="301.8" x2="470.7" y2="301.8" stroke="#555555" stroke-width="0.9"/>
<text x="440.5" y="298.8" font-size="9.0" text-anchor="middle" fill="#333" stroke="#333" stroke-width="0.2">ns</text>
<line x1="410.3" y1="314.0" x2="440.6" y2="314.0" stroke="#555555" stroke-width="0.9"/>
<line x1="471.2" y1="314.0" x2="501.4" y2="314.0" stroke="#555555" stroke-width="0.9"/>
<text x="425.5" y="313.2" font-size="8.4" text-anchor="middle" fill="#222" stroke="#222" stroke-width="0.187" textLength="14.0" lengthAdjust="spacingAndGlyphs">****</text>
<text x="486.5" y="313.2" font-size="8.4" text-anchor="middle" fill="#222" stroke="#222" stroke-width="0.187" textLength="12.8" lengthAdjust="spacingAndGlyphs">****</text>
<text x="455.8" y="288.6" font-size="9.2" text-anchor="middle" fill="#111111" stroke="#111111" stroke-width="0.2" textLength="17.3" lengthAdjust="spacingAndGlyphs">LSK</text>
<text x="410.3" y="396.0" font-size="7.9" text-anchor="middle" fill="#111111" stroke="#111111" stroke-width="0.176">Con</text>
<text x="440.4" y="396.0" font-size="7.9" text-anchor="middle" fill="#111111" stroke="#111111" stroke-width="0.176">LPS</text>
<text x="471.3" y="396.0" font-size="7.9" text-anchor="middle" fill="#111111" stroke="#111111" stroke-width="0.176">Con</text>
<text x="501.6" y="396.0" font-size="7.9" text-anchor="middle" fill="#111111" stroke="#111111" stroke-width="0.176">LPS</text>
<text x="425.4" y="408.1" font-size="8.3" text-anchor="middle" font-weight="bold" fill="#111111" stroke="#111111" stroke-width="0.092" textLength="49.0" lengthAdjust="spacingAndGlyphs">Young transplant</text>
<text x="486.5" y="408.1" font-size="8.3" text-anchor="middle" font-weight="bold" fill="#111111" stroke="#111111" stroke-width="0.092" textLength="45.4" lengthAdjust="spacingAndGlyphs">Aged transplant</text>
<text transform="translate(353.8,348.0) rotate(-90)" x="0" y="0" font-size="8.6" text-anchor="middle" fill="#111111" font-weight="bold" textLength="55.0" lengthAdjust="spacingAndGlyphs">Cell count/100,000</text>
<text transform="translate(365.0,348.3) rotate(-90)" x="0" y="0" font-size="8.6" text-anchor="middle" fill="#111111" font-weight="bold" textLength="23.8" lengthAdjust="spacingAndGlyphs">BM cells</text>
<text x="0.4" y="431.2" font-size="10.4" text-anchor="start" font-weight="bold" fill="#111111" stroke="#111111" stroke-width="0.1">H</text>
<text transform="translate(10.4,479.6) rotate(-90)" x="0" y="0" font-size="7.8" text-anchor="middle" fill="#111111" font-weight="bold" textLength="66.5" lengthAdjust="spacingAndGlyphs">TMRM<tspan dy="-2.4" font-size="5.2">hi</tspan><tspan dy="2.4"> cell frequency</tspan></text>
<line x1="37.0" y1="445.2" x2="37.0" y2="516.2" stroke="#111111" stroke-width="1.2"/>
<line x1="33.8" y1="515.6" x2="37.0" y2="515.6" stroke="#111111" stroke-width="1.2"/>
<text x="30.799999999999997" y="518.48" font-size="8.0" text-anchor="end" fill="#111111" stroke="#111111" stroke-width="0.178">0</text>
<line x1="33.8" y1="502.54" x2="37.0" y2="502.54" stroke="#111111" stroke-width="1.2"/>
<text x="30.799999999999997" y="505.42" font-size="8.0" text-anchor="end" fill="#111111" stroke="#111111" stroke-width="0.178">20</text>
<line x1="33.8" y1="489.48" x2="37.0" y2="489.48" stroke="#111111" stroke-width="1.2"/>
<text x="30.799999999999997" y="492.36" font-size="8.0" text-anchor="end" fill="#111111" stroke="#111111" stroke-width="0.178">40</text>
<line x1="33.8" y1="476.42" x2="37.0" y2="476.42" stroke="#111111" stroke-width="1.2"/>
<text x="30.799999999999997" y="479.3" font-size="8.0" text-anchor="end" fill="#111111" stroke="#111111" stroke-width="0.178">60</text>
<line x1="33.8" y1="463.36" x2="37.0" y2="463.36" stroke="#111111" stroke-width="1.2"/>
<text x="30.799999999999997" y="466.24" font-size="8.0" text-anchor="end" fill="#111111" stroke="#111111" stroke-width="0.178">80</text>
<line x1="33.8" y1="450.3" x2="37.0" y2="450.3" stroke="#111111" stroke-width="1.2"/>
<text x="30.799999999999997" y="453.18" font-size="8.0" text-anchor="end" fill="#111111" stroke="#111111" stroke-width="0.178">100</text>
<line x1="36.4" y1="515.6" x2="103.0" y2="515.6" stroke="#111111" stroke-width="1.2"/>
<line x1="53.2" y1="515.6" x2="53.2" y2="518.0" stroke="#111111" stroke-width="1.2"/>
<line x1="86.1" y1="515.6" x2="86.1" y2="518.0" stroke="#111111" stroke-width="1.2"/>
<text x="53.2" y="529.3" font-size="7.9" text-anchor="middle" fill="#111111" stroke="#111111" stroke-width="0.176">Con</text>
<text x="86.3" y="529.3" font-size="7.9" text-anchor="middle" fill="#111111" stroke="#111111" stroke-width="0.176">LPS</text>
<text x="69.65" y="437.2" font-size="9.2" text-anchor="middle" fill="#111111" stroke="#111111" stroke-width="0.2">LSK</text>
<line x1="108.4" y1="445.2" x2="108.4" y2="516.2" stroke="#111111" stroke-width="1.2"/>
<line x1="105.2" y1="515.6" x2="108.4" y2="515.6" stroke="#111111" stroke-width="1.2"/>
<line x1="105.2" y1="502.54" x2="108.4" y2="502.54" stroke="#111111" stroke-width="1.2"/>
<line x1="105.2" y1="489.48" x2="108.4" y2="489.48" stroke="#111111" stroke-width="1.2"/>
<line x1="105.2" y1="476.42" x2="108.4" y2="476.42" stroke="#111111" stroke-width="1.2"/>
<line x1="105.2" y1="463.36" x2="108.4" y2="463.36" stroke="#111111" stroke-width="1.2"/>
<line x1="105.2" y1="450.3" x2="108.4" y2="450.3" stroke="#111111" stroke-width="1.2"/>
<line x1="107.80000000000001" y1="515.6" x2="174.4" y2="515.6" stroke="#111111" stroke-width="1.2"/>
<line x1="124.8" y1="515.6" x2="124.8" y2="518.0" stroke="#111111" stroke-width="1.2"/>
<line x1="157.1" y1="515.6" x2="157.1" y2="518.0" stroke="#111111" stroke-width="1.2"/>
<text x="124.8" y="529.3" font-size="7.9" text-anchor="middle" fill="#111111" stroke="#111111" stroke-width="0.176">Con</text>
<text x="157.29999999999998" y="529.3" font-size="7.9" text-anchor="middle" fill="#111111" stroke="#111111" stroke-width="0.176">LPS</text>
<text x="140.95" y="437.2" font-size="9.2" text-anchor="middle" fill="#111111" stroke="#111111" stroke-width="0.2">LS-K</text>
<line x1="180.7" y1="445.2" x2="180.7" y2="516.2" stroke="#111111" stroke-width="1.2"/>
<line x1="177.5" y1="515.6" x2="180.7" y2="515.6" stroke="#111111" stroke-width="1.2"/>
<line x1="177.5" y1="502.54" x2="180.7" y2="502.54" stroke="#111111" stroke-width="1.2"/>
<line x1="177.5" y1="489.48" x2="180.7" y2="489.48" stroke="#111111" stroke-width="1.2"/>
<line x1="177.5" y1="476.42" x2="180.7" y2="476.42" stroke="#111111" stroke-width="1.2"/>
<line x1="177.5" y1="463.36" x2="180.7" y2="463.36" stroke="#111111" stroke-width="1.2"/>
<line x1="177.5" y1="450.3" x2="180.7" y2="450.3" stroke="#111111" stroke-width="1.2"/>
<line x1="180.1" y1="515.6" x2="246.7" y2="515.6" stroke="#111111" stroke-width="1.2"/>
<line x1="197.1" y1="515.6" x2="197.1" y2="518.0" stroke="#111111" stroke-width="1.2"/>
<line x1="229.8" y1="515.6" x2="229.8" y2="518.0" stroke="#111111" stroke-width="1.2"/>
<text x="197.1" y="529.3" font-size="7.9" text-anchor="middle" fill="#111111" stroke="#111111" stroke-width="0.176">Con</text>
<text x="230.0" y="529.3" font-size="7.9" text-anchor="middle" fill="#111111" stroke="#111111" stroke-width="0.176">LPS</text>
<text x="213.45" y="437.2" font-size="9.2" text-anchor="middle" fill="#111111" stroke="#111111" stroke-width="0.2">MPP</text>
<rect x="43.0" y="478.6" width="20.9" height="36.5" fill="#e08898"/>
<rect x="76.1" y="480.0" width="20.700000000000003" height="35.10000000000002" fill="#9dd8a5"/>
<line x1="46.1" y1="475.2" x2="60.2" y2="475.2" stroke="#222" stroke-width="0.9"/>
<line x1="53.2" y1="475.2" x2="53.2" y2="478.6" stroke="#222" stroke-width="0.9"/>
<line x1="82.8" y1="478.5" x2="89.8" y2="478.5" stroke="#222" stroke-width="0.9"/>
<circle cx="46.1" cy="474.9" r="1.8" fill="#bc1131" stroke="#8a0c22" stroke-width="0.5"/>
<circle cx="46.1" cy="481.6" r="1.8" fill="#bc1131" stroke="#8a0c22" stroke-width="0.5"/>
<circle cx="53.2" cy="477.3" r="1.8" fill="#bc1131" stroke="#8a0c22" stroke-width="0.5"/>
<circle cx="60.2" cy="475.3" r="1.8" fill="#bc1131" stroke="#8a0c22" stroke-width="0.5"/>
<circle cx="60.2" cy="480.0" r="1.8" fill="#bc1131" stroke="#8a0c22" stroke-width="0.5"/>
<circle cx="77.0" cy="479.3" r="1.8" fill="#31a347" stroke="#1f7a33" stroke-width="0.5"/>
<circle cx="77.0" cy="484.0" r="1.8" fill="#31a347" stroke="#1f7a33" stroke-width="0.5"/>
<circle cx="82.8" cy="478.4" r="1.8" fill="#31a347" stroke="#1f7a33" stroke-width="0.5"/>
<circle cx="89.2" cy="479.3" r="1.8" fill="#31a347" stroke="#1f7a33" stroke-width="0.5"/>
<circle cx="95.2" cy="480.7" r="1.8" fill="#31a347" stroke="#1f7a33" stroke-width="0.5"/>
<line x1="53.5" y1="464.9" x2="86.1" y2="464.9" stroke="#555555" stroke-width="0.9"/>
<text x="69.8" y="461.29999999999995" font-size="9.0" text-anchor="middle" fill="#333" stroke="#333" stroke-width="0.2">ns</text>
<rect x="114.3" y="479.7" width="21.000000000000014" height="35.400000000000034" fill="#e08898"/>
<rect x="147.0" y="474.3" width="20.900000000000006" height="40.80000000000001" fill="#9dd8a5"/>
<line x1="121.5" y1="469.6" x2="128.2" y2="469.6" stroke="#222" stroke-width="0.9"/>
<line x1="124.8" y1="469.6" x2="124.8" y2="479.7" stroke="#222" stroke-width="0.9"/>
<line x1="153.8" y1="466.3" x2="160.5" y2="466.3" stroke="#222" stroke-width="0.9"/>
<line x1="157.1" y1="466.3" x2="157.1" y2="474.3" stroke="#222" stroke-width="0.9"/>
<circle cx="121.5" cy="469.6" r="1.8" fill="#bc1131" stroke="#8a0c22" stroke-width="0.5"/>
<circle cx="128.2" cy="469.6" r="1.8" fill="#bc1131" stroke="#8a0c22" stroke-width="0.5"/>
<circle cx="117.8" cy="487.0" r="1.8" fill="#bc1131" stroke="#8a0c22" stroke-width="0.5"/>
<circle cx="124.8" cy="483.8" r="1.8" fill="#bc1131" stroke="#8a0c22" stroke-width="0.5"/>
<circle cx="132.0" cy="485.4" r="1.8" fill="#bc1131" stroke="#8a0c22" stroke-width="0.5"/>
<circle cx="153.8" cy="466.3" r="1.8" fill="#31a347" stroke="#1f7a33" stroke-width="0.5"/>
<circle cx="153.8" cy="471.2" r="1.8" fill="#31a347" stroke="#1f7a33" stroke-width="0.5"/>
<circle cx="160.5" cy="467.9" r="1.8" fill="#31a347" stroke="#1f7a33" stroke-width="0.5"/>
<circle cx="157.1" cy="478.0" r="1.8" fill="#31a347" stroke="#1f7a33" stroke-width="0.5"/>
<circle cx="157.4" cy="484.7" r="1.8" fill="#31a347" stroke="#1f7a33" stroke-width="0.5"/>
<line x1="124.8" y1="456.0" x2="157.8" y2="456.0" stroke="#555555" stroke-width="0.9"/>
<text x="141.3" y="453.0" font-size="9.0" text-anchor="middle" fill="#333" stroke="#333" stroke-width="0.2">ns</text>
<rect x="186.8" y="484.0" width="21.19999999999999" height="31.100000000000023" fill="#e08898"/>
<rect x="219.7" y="480.0" width="20.900000000000006" height="35.10000000000002" fill="#9dd8a5"/>
<line x1="190.1" y1="480.6" x2="204.3" y2="480.6" stroke="#222" stroke-width="0.9"/>
<line x1="222.8" y1="474.8" x2="237.2" y2="474.8" stroke="#222" stroke-width="0.9"/>
<circle cx="190.1" cy="481.3" r="1.8" fill="#bc1131" stroke="#8a0c22" stroke-width="0.5"/>
<circle cx="190.1" cy="487.8" r="1.8" fill="#bc1131" stroke="#8a0c22" stroke-width="0.5"/>
<circle cx="197.1" cy="483.0" r="1.8" fill="#bc1131" stroke="#8a0c22" stroke-width="0.5"/>
<circle cx="204.3" cy="480.3" r="1.8" fill="#bc1131" stroke="#8a0c22" stroke-width="0.5"/>
<circle cx="204.3" cy="485.1" r="1.8" fill="#bc1131" stroke="#8a0c22" stroke-width="0.5"/>
<circle cx="222.8" cy="476.6" r="1.8" fill="#31a347" stroke="#1f7a33" stroke-width="0.5"/>
<circle cx="229.8" cy="476.2" r="1.8" fill="#31a347" stroke="#1f7a33" stroke-width="0.5"/>
<circle cx="237.2" cy="476.6" r="1.8" fill="#31a347" stroke="#1f7a33" stroke-width="0.5"/>
<circle cx="229.8" cy="482.4" r="1.8" fill="#31a347" stroke="#1f7a33" stroke-width="0.5"/>
<circle cx="229.8" cy="487.4" r="1.8" fill="#31a347" stroke="#1f7a33" stroke-width="0.5"/>
<line x1="197.3" y1="464.5" x2="229.8" y2="464.5" stroke="#555555" stroke-width="0.9"/>
<text x="213.55" y="461.5" font-size="9.0" text-anchor="middle" fill="#333" stroke="#333" stroke-width="0.2">ns</text>
<text x="141.0" y="540.5" font-size="8.3" text-anchor="middle" font-weight="bold" fill="#111111" stroke="#111111" stroke-width="0.092" textLength="45.0" lengthAdjust="spacingAndGlyphs">Aged transplant</text>
<text x="250.2" y="431.3" font-size="10.4" text-anchor="start" font-weight="bold" fill="#111111" stroke="#111111" stroke-width="0.1">I</text>
<line x1="278.9" y1="444.4" x2="278.9" y2="516.4" stroke="#111111" stroke-width="1.2"/>
<line x1="275.7" y1="515.8" x2="278.9" y2="515.8" stroke="#111111" stroke-width="1.2"/>
<text x="272.7" y="518.68" font-size="8.0" text-anchor="end" fill="#111111" stroke="#111111" stroke-width="0.178">0</text>
<line x1="275.7" y1="502.43999999999994" x2="278.9" y2="502.43999999999994" stroke="#111111" stroke-width="1.2"/>
<text x="272.7" y="505.31999999999994" font-size="8.0" text-anchor="end" fill="#111111" stroke="#111111" stroke-width="0.178">5</text>
<line x1="275.7" y1="489.08" x2="278.9" y2="489.08" stroke="#111111" stroke-width="1.2"/>
<text x="272.7" y="491.96" font-size="8.0" text-anchor="end" fill="#111111" stroke="#111111" stroke-width="0.178">10</text>
<line x1="275.7" y1="475.71999999999997" x2="278.9" y2="475.71999999999997" stroke="#111111" stroke-width="1.2"/>
<text x="272.7" y="478.59999999999997" font-size="8.0" text-anchor="end" fill="#111111" stroke="#111111" stroke-width="0.178">15</text>
<line x1="275.7" y1="462.36" x2="278.9" y2="462.36" stroke="#111111" stroke-width="1.2"/>
<text x="272.7" y="465.24" font-size="8.0" text-anchor="end" fill="#111111" stroke="#111111" stroke-width="0.178">20</text>
<line x1="275.7" y1="449.0" x2="278.9" y2="449.0" stroke="#111111" stroke-width="1.2"/>
<text x="272.7" y="451.88" font-size="8.0" text-anchor="end" fill="#111111" stroke="#111111" stroke-width="0.178">25</text>
<line x1="278.29999999999995" y1="515.8" x2="386.5" y2="515.8" stroke="#111111" stroke-width="1.2"/>
<line x1="294.5" y1="515.8" x2="294.5" y2="518.1999999999999" stroke="#111111" stroke-width="1.2"/>
<line x1="318.5" y1="515.8" x2="318.5" y2="518.1999999999999" stroke="#111111" stroke-width="1.2"/>
<line x1="347.1" y1="515.8" x2="347.1" y2="518.1999999999999" stroke="#111111" stroke-width="1.2"/>
<line x1="370.6" y1="515.8" x2="370.6" y2="518.1999999999999" stroke="#111111" stroke-width="1.2"/>
<text transform="translate(257.9,480.8) rotate(-90)" x="0" y="0" font-size="7.8" text-anchor="middle" fill="#111111" font-weight="bold" textLength="34.2" lengthAdjust="spacingAndGlyphs">pmoles/min</text>
<text x="332.5" y="436.6" font-size="9.1" text-anchor="middle" fill="#111111" stroke="#111111" stroke-width="0.2" textLength="67.0" lengthAdjust="spacingAndGlyphs">Basal respiration</text>
<rect x="287.2" y="486.2" width="15.100000000000023" height="29.099999999999966" fill="#84a6c5"/>
<rect x="311.2" y="463.9" width="14.600000000000023" height="51.39999999999998" fill="#9dd8a5"/>
<rect x="339.5" y="484.1" width="15.300000000000011" height="31.199999999999932" fill="#e08898"/>
<rect x="363.2" y="459.6" width="14.699999999999989" height="55.69999999999993" fill="#9dd8a5"/>
<line x1="294.5" y1="482.1" x2="294.5" y2="486.2" stroke="#222" stroke-width="0.9"/>
<line x1="291.2" y1="482.1" x2="297.8" y2="482.1" stroke="#222" stroke-width="0.9"/>
<line x1="318.5" y1="458.7" x2="318.5" y2="463.9" stroke="#222" stroke-width="0.9"/>
<line x1="314.9" y1="458.7" x2="322.1" y2="458.7" stroke="#222" stroke-width="0.9"/>
<line x1="347.1" y1="479.0" x2="347.1" y2="484.1" stroke="#222" stroke-width="0.9"/>
<line x1="343.6" y1="479.0" x2="350.6" y2="479.0" stroke="#222" stroke-width="0.9"/>
<line x1="367.0" y1="457.6" x2="374.2" y2="457.6" stroke="#222" stroke-width="0.9"/>
<circle cx="294.5" cy="481.2" r="1.8" fill="#1c5089" stroke="#123a66" stroke-width="0.5"/>
<circle cx="292.2" cy="488.3" r="1.8" fill="#1c5089" stroke="#123a66" stroke-width="0.5"/>
<circle cx="297.3" cy="487.3" r="1.8" fill="#1c5089" stroke="#123a66" stroke-width="0.5"/>
<circle cx="318.5" cy="459.2" r="1.8" fill="#31a347" stroke="#1f7a33" stroke-width="0.5"/>
<circle cx="318.5" cy="463.3" r="1.8" fill="#31a347" stroke="#1f7a33" stroke-width="0.5"/>
<circle cx="318.5" cy="468.6" r="1.8" fill="#31a347" stroke="#1f7a33" stroke-width="0.5"/>
<circle cx="347.1" cy="478.0" r="1.8" fill="#bc1131" stroke="#8a0c22" stroke-width="0.5"/>
<circle cx="347.1" cy="484.9" r="1.8" fill="#bc1131" stroke="#8a0c22" stroke-width="0.5"/>
<circle cx="347.1" cy="487.3" r="1.8" fill="#bc1131" stroke="#8a0c22" stroke-width="0.5"/>
<circle cx="364.0" cy="459.8" r="1.8" fill="#31a347" stroke="#1f7a33" stroke-width="0.5"/>
<circle cx="370.6" cy="457.6" r="1.8" fill="#31a347" stroke="#1f7a33" stroke-width="0.5"/>
<circle cx="377.1" cy="458.7" r="1.8" fill="#31a347" stroke="#1f7a33" stroke-width="0.5"/>
<line x1="294.7" y1="450.2" x2="318.1" y2="450.2" stroke="#555555" stroke-width="0.9"/>
<line x1="347.3" y1="450.2" x2="370.4" y2="450.2" stroke="#555555" stroke-width="0.9"/>
<text x="306.5" y="449.6" font-size="9.0" text-anchor="middle" fill="#222" stroke="#222" stroke-width="0.2">**</text>
<text x="358.8" y="449.6" font-size="9.0" text-anchor="middle" fill="#222" stroke="#222" stroke-width="0.2">**</text>
<text x="294.9" y="529.4" font-size="7.9" text-anchor="middle" fill="#111111" stroke="#111111" stroke-width="0.176">Con</text>
<text x="318.6" y="529.4" font-size="7.9" text-anchor="middle" fill="#111111" stroke="#111111" stroke-width="0.176">LPS</text>
<text x="347.3" y="529.4" font-size="7.9" text-anchor="middle" fill="#111111" stroke="#111111" stroke-width="0.176">Con</text>
<text x="370.2" y="529.4" font-size="7.9" text-anchor="middle" fill="#111111" stroke="#111111" stroke-width="0.176">LPS</text>
<text x="306.6" y="540.7" font-size="8.3" text-anchor="middle" font-weight="bold" fill="#111111" stroke="#111111" stroke-width="0.092" textLength="48.3" lengthAdjust="spacingAndGlyphs">Young transplant</text>
<text x="358.9" y="540.7" font-size="8.3" text-anchor="middle" font-weight="bold" fill="#111111" stroke="#111111" stroke-width="0.092" textLength="44.4" lengthAdjust="spacingAndGlyphs">Aged transplant</text>
<line x1="415.7" y1="444.6" x2="415.7" y2="516.5" stroke="#111111" stroke-width="1.2"/>
<line x1="412.5" y1="515.9" x2="415.7" y2="515.9" stroke="#111111" stroke-width="1.2"/>
<text x="409.5" y="518.78" font-size="8.0" text-anchor="end" fill="#111111" stroke="#111111" stroke-width="0.178">0</text>
<line x1="412.5" y1="499.22499999999997" x2="415.7" y2="499.22499999999997" stroke="#111111" stroke-width="1.2"/>
<text x="409.5" y="502.10499999999996" font-size="8.0" text-anchor="end" fill="#111111" stroke="#111111" stroke-width="0.178">10</text>
<line x1="412.5" y1="482.54999999999995" x2="415.7" y2="482.54999999999995" stroke="#111111" stroke-width="1.2"/>
<text x="409.5" y="485.42999999999995" font-size="8.0" text-anchor="end" fill="#111111" stroke="#111111" stroke-width="0.178">20</text>
<line x1="412.5" y1="465.875" x2="415.7" y2="465.875" stroke="#111111" stroke-width="1.2"/>
<text x="409.5" y="468.755" font-size="8.0" text-anchor="end" fill="#111111" stroke="#111111" stroke-width="0.178">30</text>
<line x1="412.5" y1="449.2" x2="415.7" y2="449.2" stroke="#111111" stroke-width="1.2"/>
<text x="409.5" y="452.08" font-size="8.0" text-anchor="end" fill="#111111" stroke="#111111" stroke-width="0.178">40</text>
<line x1="415.09999999999997" y1="515.9" x2="518.2" y2="515.9" stroke="#111111" stroke-width="1.2"/>
<line x1="431.5" y1="515.9" x2="431.5" y2="518.3" stroke="#111111" stroke-width="1.2"/>
<line x1="455.0" y1="515.9" x2="455.0" y2="518.3" stroke="#111111" stroke-width="1.2"/>
<line x1="478.6" y1="515.9" x2="478.6" y2="518.3" stroke="#111111" stroke-width="1.2"/>
<line x1="502.4" y1="515.9" x2="502.4" y2="518.3" stroke="#111111" stroke-width="1.2"/>
<text transform="translate(394.2,480.5) rotate(-90)" x="0" y="0" font-size="7.8" text-anchor="middle" fill="#111111" font-weight="bold" textLength="35.0" lengthAdjust="spacingAndGlyphs">pmoles/min</text>
<text x="466.8" y="436.8" font-size="9.1" text-anchor="middle" fill="#111111" stroke="#111111" stroke-width="0.2" textLength="77.9" lengthAdjust="spacingAndGlyphs">Maximal respiration</text>
<rect x="424.0" y="493.0" width="14.899999999999977" height="22.399999999999977" fill="#84a6c5"/>
<rect x="447.5" y="471.2" width="15.300000000000011" height="44.19999999999999" fill="#9dd8a5"/>
<rect x="471.2" y="493.9" width="15.100000000000023" height="21.5" fill="#e08898"/>
<rect x="495.3" y="475.0" width="14.599999999999966" height="40.39999999999998" fill="#9dd8a5"/>
<line x1="431.5" y1="485.3" x2="431.5" y2="493.0" stroke="#222" stroke-width="0.9"/>
<line x1="427.85" y1="485.3" x2="435.15" y2="485.3" stroke="#222" stroke-width="0.9"/>
<line x1="455.0" y1="461.6" x2="455.0" y2="471.2" stroke="#222" stroke-width="0.9"/>
<line x1="451.15" y1="461.6" x2="458.85" y2="461.6" stroke="#222" stroke-width="0.9"/>
<line x1="475.6" y1="490.1" x2="481.5" y2="490.1" stroke="#222" stroke-width="0.9"/>
<line x1="502.4" y1="470.0" x2="502.4" y2="475.0" stroke="#222" stroke-width="0.9"/>
<line x1="498.65" y1="470.0" x2="506.15" y2="470.0" stroke="#222" stroke-width="0.9"/>
<circle cx="431.5" cy="485.3" r="1.8" fill="#1c5089" stroke="#123a66" stroke-width="0.5"/>
<circle cx="431.5" cy="492.2" r="1.8" fill="#1c5089" stroke="#123a66" stroke-width="0.5"/>
<circle cx="431.5" cy="499.9" r="1.8" fill="#1c5089" stroke="#123a66" stroke-width="0.5"/>
<circle cx="455.0" cy="460.6" r="1.8" fill="#31a347" stroke="#1f7a33" stroke-width="0.5"/>
<circle cx="455.0" cy="473.5" r="1.8" fill="#31a347" stroke="#1f7a33" stroke-width="0.5"/>
<circle cx="455.0" cy="477.8" r="1.8" fill="#31a347" stroke="#1f7a33" stroke-width="0.5"/>
<circle cx="475.8" cy="496.2" r="1.8" fill="#bc1131" stroke="#8a0c22" stroke-width="0.5"/>
<circle cx="478.6" cy="490.3" r="1.8" fill="#bc1131" stroke="#8a0c22" stroke-width="0.5"/>
<circle cx="481.5" cy="494.2" r="1.8" fill="#bc1131" stroke="#8a0c22" stroke-width="0.5"/>
<circle cx="499.6" cy="476.9" r="1.8" fill="#31a347" stroke="#1f7a33" stroke-width="0.5"/>
<circle cx="502.4" cy="469.0" r="1.8" fill="#31a347" stroke="#1f7a33" stroke-width="0.5"/>
<circle cx="505.3" cy="476.5" r="1.8" fill="#31a347" stroke="#1f7a33" stroke-width="0.5"/>
<line x1="432.1" y1="452.8" x2="454.8" y2="452.8" stroke="#555555" stroke-width="0.9"/>
<text x="443.3" y="452.2" font-size="8" text-anchor="middle" fill="#222" stroke="#222" stroke-width="0.178">*</text>
<line x1="478.6" y1="452.8" x2="502.7" y2="452.8" stroke="#555555" stroke-width="0.9"/>
<text x="490.65" y="450.2" font-size="9.0" text-anchor="middle" fill="#333" stroke="#333" stroke-width="0.2">ns</text>
<text x="431.8" y="529.1" font-size="7.9" text-anchor="middle" fill="#111111" stroke="#111111" stroke-width="0.176">Con</text>
<text x="455.2" y="529.1" font-size="7.9" text-anchor="middle" fill="#111111" stroke="#111111" stroke-width="0.176">LPS</text>
<text x="478.8" y="529.1" font-size="7.9" text-anchor="middle" fill="#111111" stroke="#111111" stroke-width="0.176">Con</text>
<text x="502.6" y="529.1" font-size="7.9" text-anchor="middle" fill="#111111" stroke="#111111" stroke-width="0.176">LPS</text>
<text x="467.2" y="540.6" font-size="8.3" text-anchor="middle" font-weight="bold" fill="#111111" stroke="#111111" stroke-width="0.092" textLength="45.6" lengthAdjust="spacingAndGlyphs">Aged transplant</text>
<text x="-1.8" y="557.6" font-size="10.4" text-anchor="start" font-weight="bold" fill="#111111" stroke="#111111" stroke-width="0.1">J</text>
<line x1="36.7" y1="562.5" x2="36.7" y2="669.3000000000001" stroke="#111111" stroke-width="1.2"/>
<line x1="33.5" y1="668.7" x2="36.7" y2="668.7" stroke="#111111" stroke-width="1.2"/>
<text x="30.5" y="671.5440000000001" font-size="7.9" text-anchor="end" fill="#111111" stroke="#111111" stroke-width="0.176">0</text>
<line x1="33.5" y1="648.4000000000001" x2="36.7" y2="648.4000000000001" stroke="#111111" stroke-width="1.2"/>
<text x="30.5" y="651.2440000000001" font-size="7.9" text-anchor="end" fill="#111111" stroke="#111111" stroke-width="0.176">5</text>
<line x1="33.5" y1="628.1" x2="36.7" y2="628.1" stroke="#111111" stroke-width="1.2"/>
<text x="30.5" y="630.9440000000001" font-size="7.9" text-anchor="end" fill="#111111" stroke="#111111" stroke-width="0.176">10</text>
<line x1="33.5" y1="607.8000000000001" x2="36.7" y2="607.8000000000001" stroke="#111111" stroke-width="1.2"/>
<text x="30.5" y="610.6440000000001" font-size="7.9" text-anchor="end" fill="#111111" stroke="#111111" stroke-width="0.176">15</text>
<line x1="33.5" y1="587.5" x2="36.7" y2="587.5" stroke="#111111" stroke-width="1.2"/>
<text x="30.5" y="590.344" font-size="7.9" text-anchor="end" fill="#111111" stroke="#111111" stroke-width="0.176">20</text>
<line x1="33.5" y1="567.2" x2="36.7" y2="567.2" stroke="#111111" stroke-width="1.2"/>
<text x="30.5" y="570.0440000000001" font-size="7.9" text-anchor="end" fill="#111111" stroke="#111111" stroke-width="0.176">25</text>
<line x1="36.2" y1="668.7" x2="142.6" y2="668.7" stroke="#111111" stroke-width="1.05"/>
<line x1="36.9" y1="668.7" x2="36.9" y2="671.3000000000001" stroke="#111111" stroke-width="1.05"/>
<text x="37.1" y="683.0" font-size="7.9" text-anchor="middle" fill="#111111" stroke="#111111" stroke-width="0.176">0</text>
<line x1="56.839999999999996" y1="668.7" x2="56.839999999999996" y2="671.3000000000001" stroke="#111111" stroke-width="1.05"/>
<text x="57.04" y="683.0" font-size="7.9" text-anchor="middle" fill="#111111" stroke="#111111" stroke-width="0.176">5</text>
<line x1="76.78" y1="668.7" x2="76.78" y2="671.3000000000001" stroke="#111111" stroke-width="1.05"/>
<text x="76.98" y="683.0" font-size="7.9" text-anchor="middle" fill="#111111" stroke="#111111" stroke-width="0.176">10</text>
<line x1="96.72" y1="668.7" x2="96.72" y2="671.3000000000001" stroke="#111111" stroke-width="1.05"/>
<text x="96.92" y="683.0" font-size="7.9" text-anchor="middle" fill="#111111" stroke="#111111" stroke-width="0.176">15</text>
<line x1="116.66" y1="668.7" x2="116.66" y2="671.3000000000001" stroke="#111111" stroke-width="1.05"/>
<text x="116.86" y="683.0" font-size="7.9" text-anchor="middle" fill="#111111" stroke="#111111" stroke-width="0.176">20</text>
<line x1="136.6" y1="668.7" x2="136.6" y2="671.3000000000001" stroke="#111111" stroke-width="1.05"/>
<text x="136.79999999999998" y="683.0" font-size="7.9" text-anchor="middle" fill="#111111" stroke="#111111" stroke-width="0.176">25</text>
<text x="89.4" y="696.0" font-size="8.3" text-anchor="middle" font-weight="bold" fill="#111111" stroke="#111111" stroke-width="0.092" textLength="15.0" lengthAdjust="spacingAndGlyphs">ECAR</text>
<text transform="translate(15.4,615.0) rotate(-90)" x="0" y="0" font-size="9.0" text-anchor="middle" fill="#111111" font-weight="bold" textLength="28.5" lengthAdjust="spacingAndGlyphs">Basal OCR</text>
<line x1="57.9" y1="574.6" x2="57.9" y2="596.4" stroke="#222" stroke-width="0.9"/>
<line x1="55.5" y1="574.6" x2="60.3" y2="574.6" stroke="#222" stroke-width="0.9"/>
<line x1="55.5" y1="596.4" x2="60.3" y2="596.4" stroke="#222" stroke-width="0.9"/>
<line x1="55.5" y1="576.3" x2="60.3" y2="576.3" stroke="#222" stroke-width="0.9"/>
<line x1="61.1" y1="611.4" x2="61.1" y2="637.1" stroke="#222" stroke-width="0.9"/>
<line x1="59.1" y1="611.4" x2="63.3" y2="611.4" stroke="#222" stroke-width="0.9"/>
<line x1="59.1" y1="637.1" x2="63.3" y2="637.1" stroke="#222" stroke-width="0.9"/>
<line x1="59.1" y1="628.2" x2="63.3" y2="628.2" stroke="#222" stroke-width="0.9"/>
<line x1="54.9" y1="622.2" x2="66.9" y2="622.2" stroke="#222" stroke-width="0.9"/>
<line x1="54.9" y1="623.4" x2="66.9" y2="623.4" stroke="#222" stroke-width="0.9"/>
<line x1="54.9" y1="620.0" x2="54.9" y2="625.2" stroke="#222" stroke-width="0.9"/>
<line x1="66.9" y1="620.0" x2="66.9" y2="625.2" stroke="#222" stroke-width="0.9"/>
<rect x="55.6" y="583.0" width="4.8" height="6.2" fill="#4fb35a"/>
<path d="M58.0 582.6 L60.6 587.6 L55.4 587.6 Z" fill="#2a8c52"/>
<circle cx="61.1" cy="624.4" r="2.0" fill="#1c5089"/>
<path d="M61.1 618.2 L63.4 620.5 L61.1 622.8 L58.8 620.5 Z" fill="#bc1131"/>
<circle cx="87.2" cy="575.4" r="2.0" fill="#1f4e8c"/>
<rect x="85.2" y="582.6" width="4.0" height="4.0" fill="#5cb85c"/>
<path d="M87.2 591.6 L89.7 594.1 L87.2 596.6 L84.7 594.1 Z" fill="#bc1131"/>
<path d="M87.2 600.9 L89.6 605.1 L84.8 605.1 Z" fill="#1e7a4a"/>
<text x="93.2" y="577.7" font-size="7.3" text-anchor="start" fill="#111111" stroke="#111111" stroke-width="0.162" textLength="52.0" lengthAdjust="spacingAndGlyphs">Young transplant</text>
<text x="93.2" y="587.1" font-size="7.3" text-anchor="start" fill="#111111" stroke="#111111" stroke-width="0.162" textLength="74.8" lengthAdjust="spacingAndGlyphs">Young transplant + LPS</text>
<text x="93.2" y="596.5" font-size="7.3" text-anchor="start" fill="#111111" stroke="#111111" stroke-width="0.162" textLength="49.4" lengthAdjust="spacingAndGlyphs">Aged transplant</text>
<text x="93.2" y="605.8" font-size="7.3" text-anchor="start" fill="#111111" stroke="#111111" stroke-width="0.162" textLength="71.5" lengthAdjust="spacingAndGlyphs">Aged transplant + LPS</text>
</svg>
</body></html>
